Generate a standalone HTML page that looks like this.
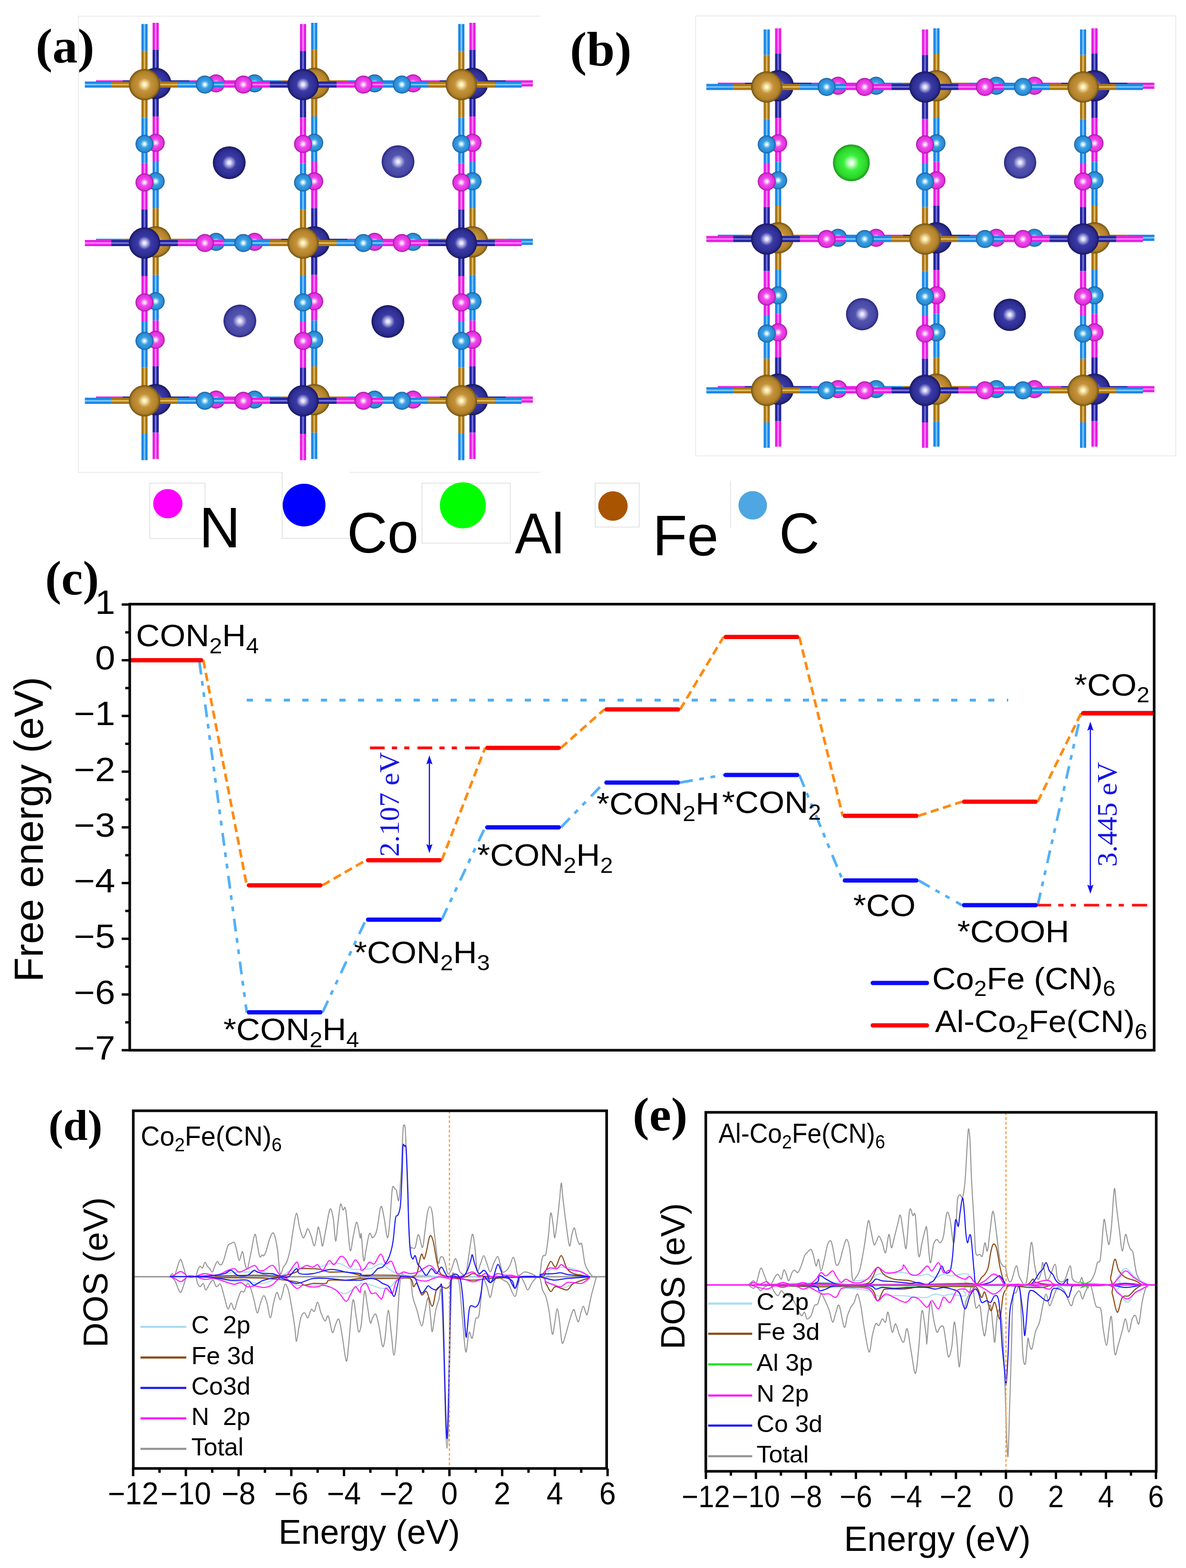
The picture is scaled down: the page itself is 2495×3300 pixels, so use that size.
<!DOCTYPE html><html><head><meta charset="utf-8"><title>Figure</title><style>html,body{margin:0;padding:0;background:#fff;}svg{display:block;}</style></head><body><svg width="2495" height="3300" viewBox="0 0 2495 3300"><defs><radialGradient id="gFe" cx="0.5" cy="0.5" r="0.5" fx="0.5" fy="0.5"><stop offset="0" stop-color="#fff6c4"/><stop offset="0.08" stop-color="#fff6c4"/><stop offset="0.42" stop-color="#c4923a"/><stop offset="0.82" stop-color="#b08028"/><stop offset="1" stop-color="#6e5012"/></radialGradient><radialGradient id="gCo" cx="0.5" cy="0.5" r="0.5" fx="0.5" fy="0.5"><stop offset="0" stop-color="#e8e8ff"/><stop offset="0.08" stop-color="#e8e8ff"/><stop offset="0.42" stop-color="#3a3aa6"/><stop offset="0.82" stop-color="#2c2c90"/><stop offset="1" stop-color="#16165e"/></radialGradient><radialGradient id="gCoL" cx="0.5" cy="0.5" r="0.5" fx="0.5" fy="0.5"><stop offset="0" stop-color="#e8e8ff"/><stop offset="0.08" stop-color="#e8e8ff"/><stop offset="0.42" stop-color="#5454b0"/><stop offset="0.82" stop-color="#4646a4"/><stop offset="1" stop-color="#262680"/></radialGradient><radialGradient id="gC" cx="0.5" cy="0.5" r="0.5" fx="0.5" fy="0.5"><stop offset="0" stop-color="#f0ffff"/><stop offset="0.08" stop-color="#f0ffff"/><stop offset="0.42" stop-color="#3aa0e4"/><stop offset="0.82" stop-color="#2a8ad4"/><stop offset="1" stop-color="#165a9a"/></radialGradient><radialGradient id="gN" cx="0.5" cy="0.5" r="0.5" fx="0.5" fy="0.5"><stop offset="0" stop-color="#fff0ff"/><stop offset="0.08" stop-color="#fff0ff"/><stop offset="0.42" stop-color="#f048ec"/><stop offset="0.82" stop-color="#e030dc"/><stop offset="1" stop-color="#a0109c"/></radialGradient><radialGradient id="gAl" cx="0.5" cy="0.5" r="0.5" fx="0.5" fy="0.5"><stop offset="0" stop-color="#f0fff0"/><stop offset="0.08" stop-color="#f0fff0"/><stop offset="0.42" stop-color="#3cf03c"/><stop offset="0.82" stop-color="#2cd42c"/><stop offset="1" stop-color="#189818"/></radialGradient><linearGradient id="bFeh" x1="0" y1="0" x2="0" y2="1"><stop offset="0" stop-color="#a87418"/><stop offset="0.3" stop-color="#a87418"/><stop offset="0.5" stop-color="#f2d070"/><stop offset="0.7" stop-color="#a87418"/><stop offset="1" stop-color="#a87418"/></linearGradient><linearGradient id="bFev" x1="0" y1="0" x2="1" y2="0"><stop offset="0" stop-color="#a87418"/><stop offset="0.3" stop-color="#a87418"/><stop offset="0.5" stop-color="#f2d070"/><stop offset="0.7" stop-color="#a87418"/><stop offset="1" stop-color="#a87418"/></linearGradient><linearGradient id="bCoh" x1="0" y1="0" x2="0" y2="1"><stop offset="0" stop-color="#24249a"/><stop offset="0.3" stop-color="#24249a"/><stop offset="0.5" stop-color="#8c8cf0"/><stop offset="0.7" stop-color="#24249a"/><stop offset="1" stop-color="#24249a"/></linearGradient><linearGradient id="bCov" x1="0" y1="0" x2="1" y2="0"><stop offset="0" stop-color="#24249a"/><stop offset="0.3" stop-color="#24249a"/><stop offset="0.5" stop-color="#8c8cf0"/><stop offset="0.7" stop-color="#24249a"/><stop offset="1" stop-color="#24249a"/></linearGradient><linearGradient id="bCh" x1="0" y1="0" x2="0" y2="1"><stop offset="0" stop-color="#1e86e6"/><stop offset="0.3" stop-color="#1e86e6"/><stop offset="0.5" stop-color="#90dcff"/><stop offset="0.7" stop-color="#1e86e6"/><stop offset="1" stop-color="#1e86e6"/></linearGradient><linearGradient id="bCv" x1="0" y1="0" x2="1" y2="0"><stop offset="0" stop-color="#1e86e6"/><stop offset="0.3" stop-color="#1e86e6"/><stop offset="0.5" stop-color="#90dcff"/><stop offset="0.7" stop-color="#1e86e6"/><stop offset="1" stop-color="#1e86e6"/></linearGradient><linearGradient id="bNh" x1="0" y1="0" x2="0" y2="1"><stop offset="0" stop-color="#e81ee4"/><stop offset="0.3" stop-color="#e81ee4"/><stop offset="0.5" stop-color="#ff9cff"/><stop offset="0.7" stop-color="#e81ee4"/><stop offset="1" stop-color="#e81ee4"/></linearGradient><linearGradient id="bNv" x1="0" y1="0" x2="1" y2="0"><stop offset="0" stop-color="#e81ee4"/><stop offset="0.3" stop-color="#e81ee4"/><stop offset="0.5" stop-color="#ff9cff"/><stop offset="0.7" stop-color="#e81ee4"/><stop offset="1" stop-color="#e81ee4"/></linearGradient></defs><rect width="2495" height="3300" fill="#fff"/><path d="M1137.5 34 H165 V994 H593.5 M735 994 H1137.5" fill="none" stroke="#e6e6e6" stroke-width="1.5"/><rect x="1463.5" y="33.5" width="1010" height="926" fill="none" stroke="#e6e6e6" stroke-width="1.5"/><rect x="202" y="169" width="55.8" height="13" fill="url(#bNh)"/><rect x="257.8" y="169" width="69.8" height="13" fill="url(#bCoh)"/><rect x="327.5" y="169" width="70.5" height="13" fill="url(#bCoh)"/><rect x="398" y="169" width="56.5" height="13" fill="url(#bNh)"/><rect x="454.5" y="169" width="40.5" height="13" fill="url(#bNh)"/><rect x="495" y="169" width="40.5" height="13" fill="url(#bCh)"/><rect x="535.5" y="169" width="55.8" height="13" fill="url(#bCh)"/><rect x="591.2" y="169" width="69.8" height="13" fill="url(#bFeh)"/><rect x="661" y="169" width="70.5" height="13" fill="url(#bFeh)"/><rect x="731.5" y="169" width="56.5" height="13" fill="url(#bCh)"/><rect x="788" y="169" width="40.5" height="13" fill="url(#bCh)"/><rect x="828.5" y="169" width="40.5" height="13" fill="url(#bNh)"/><rect x="869" y="169" width="55.5" height="13" fill="url(#bNh)"/><rect x="924.5" y="169" width="69.5" height="13" fill="url(#bCoh)"/><rect x="994" y="169" width="70.5" height="13" fill="url(#bCoh)"/><rect x="1064.5" y="169" width="56.5" height="13" fill="url(#bNh)"/><rect x="202" y="502.5" width="55.8" height="13" fill="url(#bCh)"/><rect x="257.8" y="502.5" width="69.8" height="13" fill="url(#bFeh)"/><rect x="327.5" y="502.5" width="70.5" height="13" fill="url(#bFeh)"/><rect x="398" y="502.5" width="56.5" height="13" fill="url(#bCh)"/><rect x="454.5" y="502.5" width="40.5" height="13" fill="url(#bCh)"/><rect x="495" y="502.5" width="40.5" height="13" fill="url(#bNh)"/><rect x="535.5" y="502.5" width="55.8" height="13" fill="url(#bNh)"/><rect x="591.2" y="502.5" width="69.8" height="13" fill="url(#bCoh)"/><rect x="661" y="502.5" width="70.5" height="13" fill="url(#bCoh)"/><rect x="731.5" y="502.5" width="56.5" height="13" fill="url(#bNh)"/><rect x="788" y="502.5" width="40.5" height="13" fill="url(#bNh)"/><rect x="828.5" y="502.5" width="40.5" height="13" fill="url(#bCh)"/><rect x="869" y="502.5" width="55.5" height="13" fill="url(#bCh)"/><rect x="924.5" y="502.5" width="69.5" height="13" fill="url(#bFeh)"/><rect x="994" y="502.5" width="70.5" height="13" fill="url(#bFeh)"/><rect x="1064.5" y="502.5" width="56.5" height="13" fill="url(#bCh)"/><rect x="202" y="834.5" width="55.8" height="13" fill="url(#bNh)"/><rect x="257.8" y="834.5" width="69.8" height="13" fill="url(#bCoh)"/><rect x="327.5" y="834.5" width="70.5" height="13" fill="url(#bCoh)"/><rect x="398" y="834.5" width="56.5" height="13" fill="url(#bNh)"/><rect x="454.5" y="834.5" width="40.5" height="13" fill="url(#bNh)"/><rect x="495" y="834.5" width="40.5" height="13" fill="url(#bCh)"/><rect x="535.5" y="834.5" width="55.8" height="13" fill="url(#bCh)"/><rect x="591.2" y="834.5" width="69.8" height="13" fill="url(#bFeh)"/><rect x="661" y="834.5" width="70.5" height="13" fill="url(#bFeh)"/><rect x="731.5" y="834.5" width="56.5" height="13" fill="url(#bCh)"/><rect x="788" y="834.5" width="40.5" height="13" fill="url(#bCh)"/><rect x="828.5" y="834.5" width="40.5" height="13" fill="url(#bNh)"/><rect x="869" y="834.5" width="55.5" height="13" fill="url(#bNh)"/><rect x="924.5" y="834.5" width="69.5" height="13" fill="url(#bCoh)"/><rect x="994" y="834.5" width="70.5" height="13" fill="url(#bCoh)"/><rect x="1064.5" y="834.5" width="56.5" height="13" fill="url(#bNh)"/><rect x="321" y="48" width="13" height="56.8" fill="url(#bNv)"/><rect x="321" y="104.8" width="13" height="70.8" fill="url(#bCov)"/><rect x="321" y="175.5" width="13" height="69.5" fill="url(#bCov)"/><rect x="321" y="245" width="13" height="55.5" fill="url(#bNv)"/><rect x="321" y="300.5" width="13" height="40.5" fill="url(#bNv)"/><rect x="321" y="341" width="13" height="40.5" fill="url(#bCv)"/><rect x="321" y="381.5" width="13" height="56.8" fill="url(#bCv)"/><rect x="321" y="438.2" width="13" height="70.8" fill="url(#bFev)"/><rect x="321" y="509" width="13" height="69.5" fill="url(#bFev)"/><rect x="321" y="578.5" width="13" height="55.5" fill="url(#bCv)"/><rect x="321" y="634" width="13" height="40.5" fill="url(#bCv)"/><rect x="321" y="674.5" width="13" height="40.5" fill="url(#bNv)"/><rect x="321" y="715" width="13" height="56" fill="url(#bNv)"/><rect x="321" y="771" width="13" height="70" fill="url(#bCov)"/><rect x="321" y="841" width="13" height="69.5" fill="url(#bCov)"/><rect x="321" y="910.5" width="13" height="55.5" fill="url(#bNv)"/><rect x="654.5" y="48" width="13" height="56.8" fill="url(#bCv)"/><rect x="654.5" y="104.8" width="13" height="70.8" fill="url(#bFev)"/><rect x="654.5" y="175.5" width="13" height="69.5" fill="url(#bFev)"/><rect x="654.5" y="245" width="13" height="55.5" fill="url(#bCv)"/><rect x="654.5" y="300.5" width="13" height="40.5" fill="url(#bCv)"/><rect x="654.5" y="341" width="13" height="40.5" fill="url(#bNv)"/><rect x="654.5" y="381.5" width="13" height="56.8" fill="url(#bNv)"/><rect x="654.5" y="438.2" width="13" height="70.8" fill="url(#bCov)"/><rect x="654.5" y="509" width="13" height="69.5" fill="url(#bCov)"/><rect x="654.5" y="578.5" width="13" height="55.5" fill="url(#bNv)"/><rect x="654.5" y="634" width="13" height="40.5" fill="url(#bNv)"/><rect x="654.5" y="674.5" width="13" height="40.5" fill="url(#bCv)"/><rect x="654.5" y="715" width="13" height="56" fill="url(#bCv)"/><rect x="654.5" y="771" width="13" height="70" fill="url(#bFev)"/><rect x="654.5" y="841" width="13" height="69.5" fill="url(#bFev)"/><rect x="654.5" y="910.5" width="13" height="55.5" fill="url(#bCv)"/><rect x="987.5" y="48" width="13" height="56.8" fill="url(#bNv)"/><rect x="987.5" y="104.8" width="13" height="70.8" fill="url(#bCov)"/><rect x="987.5" y="175.5" width="13" height="69.5" fill="url(#bCov)"/><rect x="987.5" y="245" width="13" height="55.5" fill="url(#bNv)"/><rect x="987.5" y="300.5" width="13" height="40.5" fill="url(#bNv)"/><rect x="987.5" y="341" width="13" height="40.5" fill="url(#bCv)"/><rect x="987.5" y="381.5" width="13" height="56.8" fill="url(#bCv)"/><rect x="987.5" y="438.2" width="13" height="70.8" fill="url(#bFev)"/><rect x="987.5" y="509" width="13" height="69.5" fill="url(#bFev)"/><rect x="987.5" y="578.5" width="13" height="55.5" fill="url(#bCv)"/><rect x="987.5" y="634" width="13" height="40.5" fill="url(#bCv)"/><rect x="987.5" y="674.5" width="13" height="40.5" fill="url(#bNv)"/><rect x="987.5" y="715" width="13" height="56" fill="url(#bNv)"/><rect x="987.5" y="771" width="13" height="70" fill="url(#bCov)"/><rect x="987.5" y="841" width="13" height="69.5" fill="url(#bCov)"/><rect x="987.5" y="910.5" width="13" height="55.5" fill="url(#bNv)"/><circle cx="454.5" cy="175.5" r="19" fill="url(#gN)"/><circle cx="535.5" cy="175.5" r="19" fill="url(#gC)"/><circle cx="788" cy="175.5" r="19" fill="url(#gC)"/><circle cx="869" cy="175.5" r="19" fill="url(#gN)"/><circle cx="454.5" cy="509" r="19" fill="url(#gC)"/><circle cx="535.5" cy="509" r="19" fill="url(#gN)"/><circle cx="788" cy="509" r="19" fill="url(#gN)"/><circle cx="869" cy="509" r="19" fill="url(#gC)"/><circle cx="454.5" cy="841" r="19" fill="url(#gN)"/><circle cx="535.5" cy="841" r="19" fill="url(#gC)"/><circle cx="788" cy="841" r="19" fill="url(#gC)"/><circle cx="869" cy="841" r="19" fill="url(#gN)"/><circle cx="327.5" cy="300.5" r="19" fill="url(#gN)"/><circle cx="327.5" cy="381.5" r="19" fill="url(#gC)"/><circle cx="327.5" cy="634" r="19" fill="url(#gC)"/><circle cx="327.5" cy="715" r="19" fill="url(#gN)"/><circle cx="661" cy="300.5" r="19" fill="url(#gC)"/><circle cx="661" cy="381.5" r="19" fill="url(#gN)"/><circle cx="661" cy="634" r="19" fill="url(#gN)"/><circle cx="661" cy="715" r="19" fill="url(#gC)"/><circle cx="994" cy="300.5" r="19" fill="url(#gN)"/><circle cx="994" cy="381.5" r="19" fill="url(#gC)"/><circle cx="994" cy="634" r="19" fill="url(#gC)"/><circle cx="994" cy="715" r="19" fill="url(#gN)"/><circle cx="327.5" cy="175.5" r="33" fill="url(#gCo)"/><circle cx="327.5" cy="509" r="33" fill="url(#gFe)"/><circle cx="327.5" cy="841" r="33" fill="url(#gCo)"/><circle cx="661" cy="175.5" r="33" fill="url(#gFe)"/><circle cx="661" cy="509" r="33" fill="url(#gCo)"/><circle cx="661" cy="841" r="33" fill="url(#gFe)"/><circle cx="994" cy="175.5" r="33" fill="url(#gCo)"/><circle cx="994" cy="509" r="33" fill="url(#gFe)"/><circle cx="994" cy="841" r="33" fill="url(#gCo)"/><circle cx="482.2" cy="342.4" r="34.5" fill="url(#gCo)"/><circle cx="837.3" cy="340.2" r="34.5" fill="url(#gCoL)"/><circle cx="504.6" cy="675.5" r="34.5" fill="url(#gCoL)"/><circle cx="816" cy="676.5" r="34.5" fill="url(#gCo)"/><rect x="178.5" y="171.5" width="55.8" height="13" fill="url(#bCh)"/><rect x="234.2" y="171.5" width="69.8" height="13" fill="url(#bFeh)"/><rect x="304" y="171.5" width="70.5" height="13" fill="url(#bFeh)"/><rect x="374.5" y="171.5" width="56.5" height="13" fill="url(#bCh)"/><rect x="431" y="171.5" width="40.5" height="13" fill="url(#bCh)"/><rect x="471.5" y="171.5" width="40.5" height="13" fill="url(#bNh)"/><rect x="512" y="171.5" width="55.8" height="13" fill="url(#bNh)"/><rect x="567.8" y="171.5" width="69.8" height="13" fill="url(#bCoh)"/><rect x="637.5" y="171.5" width="70.5" height="13" fill="url(#bCoh)"/><rect x="708" y="171.5" width="56.5" height="13" fill="url(#bNh)"/><rect x="764.5" y="171.5" width="40.5" height="13" fill="url(#bNh)"/><rect x="805" y="171.5" width="40.5" height="13" fill="url(#bCh)"/><rect x="845.5" y="171.5" width="55.5" height="13" fill="url(#bCh)"/><rect x="901" y="171.5" width="69.5" height="13" fill="url(#bFeh)"/><rect x="970.5" y="171.5" width="70.5" height="13" fill="url(#bFeh)"/><rect x="1041" y="171.5" width="56.5" height="13" fill="url(#bCh)"/><rect x="178.5" y="505" width="55.8" height="13" fill="url(#bNh)"/><rect x="234.2" y="505" width="69.8" height="13" fill="url(#bCoh)"/><rect x="304" y="505" width="70.5" height="13" fill="url(#bCoh)"/><rect x="374.5" y="505" width="56.5" height="13" fill="url(#bNh)"/><rect x="431" y="505" width="40.5" height="13" fill="url(#bNh)"/><rect x="471.5" y="505" width="40.5" height="13" fill="url(#bCh)"/><rect x="512" y="505" width="55.8" height="13" fill="url(#bCh)"/><rect x="567.8" y="505" width="69.8" height="13" fill="url(#bFeh)"/><rect x="637.5" y="505" width="70.5" height="13" fill="url(#bFeh)"/><rect x="708" y="505" width="56.5" height="13" fill="url(#bCh)"/><rect x="764.5" y="505" width="40.5" height="13" fill="url(#bCh)"/><rect x="805" y="505" width="40.5" height="13" fill="url(#bNh)"/><rect x="845.5" y="505" width="55.5" height="13" fill="url(#bNh)"/><rect x="901" y="505" width="69.5" height="13" fill="url(#bCoh)"/><rect x="970.5" y="505" width="70.5" height="13" fill="url(#bCoh)"/><rect x="1041" y="505" width="56.5" height="13" fill="url(#bNh)"/><rect x="178.5" y="837" width="55.8" height="13" fill="url(#bCh)"/><rect x="234.2" y="837" width="69.8" height="13" fill="url(#bFeh)"/><rect x="304" y="837" width="70.5" height="13" fill="url(#bFeh)"/><rect x="374.5" y="837" width="56.5" height="13" fill="url(#bCh)"/><rect x="431" y="837" width="40.5" height="13" fill="url(#bCh)"/><rect x="471.5" y="837" width="40.5" height="13" fill="url(#bNh)"/><rect x="512" y="837" width="55.8" height="13" fill="url(#bNh)"/><rect x="567.8" y="837" width="69.8" height="13" fill="url(#bCoh)"/><rect x="637.5" y="837" width="70.5" height="13" fill="url(#bCoh)"/><rect x="708" y="837" width="56.5" height="13" fill="url(#bNh)"/><rect x="764.5" y="837" width="40.5" height="13" fill="url(#bNh)"/><rect x="805" y="837" width="40.5" height="13" fill="url(#bCh)"/><rect x="845.5" y="837" width="55.5" height="13" fill="url(#bCh)"/><rect x="901" y="837" width="69.5" height="13" fill="url(#bFeh)"/><rect x="970.5" y="837" width="70.5" height="13" fill="url(#bFeh)"/><rect x="1041" y="837" width="56.5" height="13" fill="url(#bCh)"/><rect x="297.5" y="50.5" width="13" height="56.8" fill="url(#bCv)"/><rect x="297.5" y="107.2" width="13" height="70.8" fill="url(#bFev)"/><rect x="297.5" y="178" width="13" height="69.5" fill="url(#bFev)"/><rect x="297.5" y="247.5" width="13" height="55.5" fill="url(#bCv)"/><rect x="297.5" y="303" width="13" height="40.5" fill="url(#bCv)"/><rect x="297.5" y="343.5" width="13" height="40.5" fill="url(#bNv)"/><rect x="297.5" y="384" width="13" height="56.8" fill="url(#bNv)"/><rect x="297.5" y="440.8" width="13" height="70.8" fill="url(#bCov)"/><rect x="297.5" y="511.5" width="13" height="69.5" fill="url(#bCov)"/><rect x="297.5" y="581" width="13" height="55.5" fill="url(#bNv)"/><rect x="297.5" y="636.5" width="13" height="40.5" fill="url(#bNv)"/><rect x="297.5" y="677" width="13" height="40.5" fill="url(#bCv)"/><rect x="297.5" y="717.5" width="13" height="56" fill="url(#bCv)"/><rect x="297.5" y="773.5" width="13" height="70" fill="url(#bFev)"/><rect x="297.5" y="843.5" width="13" height="69.5" fill="url(#bFev)"/><rect x="297.5" y="913" width="13" height="55.5" fill="url(#bCv)"/><rect x="631" y="50.5" width="13" height="56.8" fill="url(#bNv)"/><rect x="631" y="107.2" width="13" height="70.8" fill="url(#bCov)"/><rect x="631" y="178" width="13" height="69.5" fill="url(#bCov)"/><rect x="631" y="247.5" width="13" height="55.5" fill="url(#bNv)"/><rect x="631" y="303" width="13" height="40.5" fill="url(#bNv)"/><rect x="631" y="343.5" width="13" height="40.5" fill="url(#bCv)"/><rect x="631" y="384" width="13" height="56.8" fill="url(#bCv)"/><rect x="631" y="440.8" width="13" height="70.8" fill="url(#bFev)"/><rect x="631" y="511.5" width="13" height="69.5" fill="url(#bFev)"/><rect x="631" y="581" width="13" height="55.5" fill="url(#bCv)"/><rect x="631" y="636.5" width="13" height="40.5" fill="url(#bCv)"/><rect x="631" y="677" width="13" height="40.5" fill="url(#bNv)"/><rect x="631" y="717.5" width="13" height="56" fill="url(#bNv)"/><rect x="631" y="773.5" width="13" height="70" fill="url(#bCov)"/><rect x="631" y="843.5" width="13" height="69.5" fill="url(#bCov)"/><rect x="631" y="913" width="13" height="55.5" fill="url(#bNv)"/><rect x="964" y="50.5" width="13" height="56.8" fill="url(#bCv)"/><rect x="964" y="107.2" width="13" height="70.8" fill="url(#bFev)"/><rect x="964" y="178" width="13" height="69.5" fill="url(#bFev)"/><rect x="964" y="247.5" width="13" height="55.5" fill="url(#bCv)"/><rect x="964" y="303" width="13" height="40.5" fill="url(#bCv)"/><rect x="964" y="343.5" width="13" height="40.5" fill="url(#bNv)"/><rect x="964" y="384" width="13" height="56.8" fill="url(#bNv)"/><rect x="964" y="440.8" width="13" height="70.8" fill="url(#bCov)"/><rect x="964" y="511.5" width="13" height="69.5" fill="url(#bCov)"/><rect x="964" y="581" width="13" height="55.5" fill="url(#bNv)"/><rect x="964" y="636.5" width="13" height="40.5" fill="url(#bNv)"/><rect x="964" y="677" width="13" height="40.5" fill="url(#bCv)"/><rect x="964" y="717.5" width="13" height="56" fill="url(#bCv)"/><rect x="964" y="773.5" width="13" height="70" fill="url(#bFev)"/><rect x="964" y="843.5" width="13" height="69.5" fill="url(#bFev)"/><rect x="964" y="913" width="13" height="55.5" fill="url(#bCv)"/><circle cx="431" cy="178" r="19" fill="url(#gC)"/><circle cx="512" cy="178" r="19" fill="url(#gN)"/><circle cx="764.5" cy="178" r="19" fill="url(#gN)"/><circle cx="845.5" cy="178" r="19" fill="url(#gC)"/><circle cx="431" cy="511.5" r="19" fill="url(#gN)"/><circle cx="512" cy="511.5" r="19" fill="url(#gC)"/><circle cx="764.5" cy="511.5" r="19" fill="url(#gC)"/><circle cx="845.5" cy="511.5" r="19" fill="url(#gN)"/><circle cx="431" cy="843.5" r="19" fill="url(#gC)"/><circle cx="512" cy="843.5" r="19" fill="url(#gN)"/><circle cx="764.5" cy="843.5" r="19" fill="url(#gN)"/><circle cx="845.5" cy="843.5" r="19" fill="url(#gC)"/><circle cx="304" cy="303" r="19" fill="url(#gC)"/><circle cx="304" cy="384" r="19" fill="url(#gN)"/><circle cx="304" cy="636.5" r="19" fill="url(#gN)"/><circle cx="304" cy="717.5" r="19" fill="url(#gC)"/><circle cx="637.5" cy="303" r="19" fill="url(#gN)"/><circle cx="637.5" cy="384" r="19" fill="url(#gC)"/><circle cx="637.5" cy="636.5" r="19" fill="url(#gC)"/><circle cx="637.5" cy="717.5" r="19" fill="url(#gN)"/><circle cx="970.5" cy="303" r="19" fill="url(#gC)"/><circle cx="970.5" cy="384" r="19" fill="url(#gN)"/><circle cx="970.5" cy="636.5" r="19" fill="url(#gN)"/><circle cx="970.5" cy="717.5" r="19" fill="url(#gC)"/><circle cx="304" cy="178" r="33" fill="url(#gFe)"/><circle cx="304" cy="511.5" r="33" fill="url(#gCo)"/><circle cx="304" cy="843.5" r="33" fill="url(#gFe)"/><circle cx="637.5" cy="178" r="33" fill="url(#gCo)"/><circle cx="637.5" cy="511.5" r="33" fill="url(#gFe)"/><circle cx="637.5" cy="843.5" r="33" fill="url(#gCo)"/><circle cx="970.5" cy="178" r="33" fill="url(#gFe)"/><circle cx="970.5" cy="511.5" r="33" fill="url(#gCo)"/><circle cx="970.5" cy="843.5" r="33" fill="url(#gFe)"/><rect x="1510" y="174" width="56.5" height="13" fill="url(#bNh)"/><rect x="1566.5" y="174" width="70.5" height="13" fill="url(#bCoh)"/><rect x="1637" y="174" width="70" height="13" fill="url(#bCoh)"/><rect x="1707" y="174" width="56" height="13" fill="url(#bNh)"/><rect x="1763" y="174" width="40" height="13" fill="url(#bNh)"/><rect x="1803" y="174" width="40" height="13" fill="url(#bCh)"/><rect x="1843" y="174" width="56.5" height="13" fill="url(#bCh)"/><rect x="1899.5" y="174" width="70.5" height="13" fill="url(#bFeh)"/><rect x="1970" y="174" width="70" height="13" fill="url(#bFeh)"/><rect x="2040" y="174" width="56" height="13" fill="url(#bCh)"/><rect x="2096" y="174" width="40" height="13" fill="url(#bCh)"/><rect x="2136" y="174" width="40" height="13" fill="url(#bNh)"/><rect x="2176" y="174" width="56.2" height="13" fill="url(#bNh)"/><rect x="2232.2" y="174" width="70.2" height="13" fill="url(#bCoh)"/><rect x="2302.5" y="174" width="70" height="13" fill="url(#bCoh)"/><rect x="2372.5" y="174" width="56" height="13" fill="url(#bNh)"/><rect x="1510" y="494" width="56.5" height="13" fill="url(#bCh)"/><rect x="1566.5" y="494" width="70.5" height="13" fill="url(#bFeh)"/><rect x="1637" y="494" width="70" height="13" fill="url(#bFeh)"/><rect x="1707" y="494" width="56" height="13" fill="url(#bCh)"/><rect x="1763" y="494" width="40" height="13" fill="url(#bCh)"/><rect x="1803" y="494" width="40" height="13" fill="url(#bNh)"/><rect x="1843" y="494" width="56.5" height="13" fill="url(#bNh)"/><rect x="1899.5" y="494" width="70.5" height="13" fill="url(#bCoh)"/><rect x="1970" y="494" width="70" height="13" fill="url(#bCoh)"/><rect x="2040" y="494" width="56" height="13" fill="url(#bNh)"/><rect x="2096" y="494" width="40" height="13" fill="url(#bNh)"/><rect x="2136" y="494" width="40" height="13" fill="url(#bCh)"/><rect x="2176" y="494" width="56.2" height="13" fill="url(#bCh)"/><rect x="2232.2" y="494" width="70.2" height="13" fill="url(#bFeh)"/><rect x="2302.5" y="494" width="70" height="13" fill="url(#bFeh)"/><rect x="2372.5" y="494" width="56" height="13" fill="url(#bCh)"/><rect x="1510" y="812.5" width="56.5" height="13" fill="url(#bNh)"/><rect x="1566.5" y="812.5" width="70.5" height="13" fill="url(#bCoh)"/><rect x="1637" y="812.5" width="70" height="13" fill="url(#bCoh)"/><rect x="1707" y="812.5" width="56" height="13" fill="url(#bNh)"/><rect x="1763" y="812.5" width="40" height="13" fill="url(#bNh)"/><rect x="1803" y="812.5" width="40" height="13" fill="url(#bCh)"/><rect x="1843" y="812.5" width="56.5" height="13" fill="url(#bCh)"/><rect x="1899.5" y="812.5" width="70.5" height="13" fill="url(#bFeh)"/><rect x="1970" y="812.5" width="70" height="13" fill="url(#bFeh)"/><rect x="2040" y="812.5" width="56" height="13" fill="url(#bCh)"/><rect x="2096" y="812.5" width="40" height="13" fill="url(#bCh)"/><rect x="2136" y="812.5" width="40" height="13" fill="url(#bNh)"/><rect x="2176" y="812.5" width="56.2" height="13" fill="url(#bNh)"/><rect x="2232.2" y="812.5" width="70.2" height="13" fill="url(#bCoh)"/><rect x="2302.5" y="812.5" width="70" height="13" fill="url(#bCoh)"/><rect x="2372.5" y="812.5" width="56" height="13" fill="url(#bNh)"/><rect x="1630.5" y="59.5" width="13" height="53.5" fill="url(#bNv)"/><rect x="1630.5" y="113" width="13" height="67.5" fill="url(#bCov)"/><rect x="1630.5" y="180.5" width="13" height="67.5" fill="url(#bCov)"/><rect x="1630.5" y="248" width="13" height="53.5" fill="url(#bNv)"/><rect x="1630.5" y="301.5" width="13" height="39" fill="url(#bNv)"/><rect x="1630.5" y="340.5" width="13" height="39" fill="url(#bCv)"/><rect x="1630.5" y="379.5" width="13" height="53.5" fill="url(#bCv)"/><rect x="1630.5" y="433" width="13" height="67.5" fill="url(#bFev)"/><rect x="1630.5" y="500.5" width="13" height="67.5" fill="url(#bFev)"/><rect x="1630.5" y="568" width="13" height="53.5" fill="url(#bCv)"/><rect x="1630.5" y="621.5" width="13" height="39" fill="url(#bCv)"/><rect x="1630.5" y="660.5" width="13" height="39" fill="url(#bNv)"/><rect x="1630.5" y="699.5" width="13" height="52.8" fill="url(#bNv)"/><rect x="1630.5" y="752.2" width="13" height="66.8" fill="url(#bCov)"/><rect x="1630.5" y="819" width="13" height="67.5" fill="url(#bCov)"/><rect x="1630.5" y="886.5" width="13" height="53.5" fill="url(#bNv)"/><rect x="1963.5" y="59.5" width="13" height="53.5" fill="url(#bCv)"/><rect x="1963.5" y="113" width="13" height="67.5" fill="url(#bFev)"/><rect x="1963.5" y="180.5" width="13" height="67.5" fill="url(#bFev)"/><rect x="1963.5" y="248" width="13" height="53.5" fill="url(#bCv)"/><rect x="1963.5" y="301.5" width="13" height="39" fill="url(#bCv)"/><rect x="1963.5" y="340.5" width="13" height="39" fill="url(#bNv)"/><rect x="1963.5" y="379.5" width="13" height="53.5" fill="url(#bNv)"/><rect x="1963.5" y="433" width="13" height="67.5" fill="url(#bCov)"/><rect x="1963.5" y="500.5" width="13" height="67.5" fill="url(#bCov)"/><rect x="1963.5" y="568" width="13" height="53.5" fill="url(#bNv)"/><rect x="1963.5" y="621.5" width="13" height="39" fill="url(#bNv)"/><rect x="1963.5" y="660.5" width="13" height="39" fill="url(#bCv)"/><rect x="1963.5" y="699.5" width="13" height="52.8" fill="url(#bCv)"/><rect x="1963.5" y="752.2" width="13" height="66.8" fill="url(#bFev)"/><rect x="1963.5" y="819" width="13" height="67.5" fill="url(#bFev)"/><rect x="1963.5" y="886.5" width="13" height="53.5" fill="url(#bCv)"/><rect x="2296" y="59.5" width="13" height="53.5" fill="url(#bNv)"/><rect x="2296" y="113" width="13" height="67.5" fill="url(#bCov)"/><rect x="2296" y="180.5" width="13" height="67.5" fill="url(#bCov)"/><rect x="2296" y="248" width="13" height="53.5" fill="url(#bNv)"/><rect x="2296" y="301.5" width="13" height="39" fill="url(#bNv)"/><rect x="2296" y="340.5" width="13" height="39" fill="url(#bCv)"/><rect x="2296" y="379.5" width="13" height="53.5" fill="url(#bCv)"/><rect x="2296" y="433" width="13" height="67.5" fill="url(#bFev)"/><rect x="2296" y="500.5" width="13" height="67.5" fill="url(#bFev)"/><rect x="2296" y="568" width="13" height="53.5" fill="url(#bCv)"/><rect x="2296" y="621.5" width="13" height="39" fill="url(#bCv)"/><rect x="2296" y="660.5" width="13" height="39" fill="url(#bNv)"/><rect x="2296" y="699.5" width="13" height="52.8" fill="url(#bNv)"/><rect x="2296" y="752.2" width="13" height="66.8" fill="url(#bCov)"/><rect x="2296" y="819" width="13" height="67.5" fill="url(#bCov)"/><rect x="2296" y="886.5" width="13" height="53.5" fill="url(#bNv)"/><circle cx="1763" cy="180.5" r="19" fill="url(#gN)"/><circle cx="1843" cy="180.5" r="19" fill="url(#gC)"/><circle cx="2096" cy="180.5" r="19" fill="url(#gC)"/><circle cx="2176" cy="180.5" r="19" fill="url(#gN)"/><circle cx="1763" cy="500.5" r="19" fill="url(#gC)"/><circle cx="1843" cy="500.5" r="19" fill="url(#gN)"/><circle cx="2096" cy="500.5" r="19" fill="url(#gN)"/><circle cx="2176" cy="500.5" r="19" fill="url(#gC)"/><circle cx="1763" cy="819" r="19" fill="url(#gN)"/><circle cx="1843" cy="819" r="19" fill="url(#gC)"/><circle cx="2096" cy="819" r="19" fill="url(#gC)"/><circle cx="2176" cy="819" r="19" fill="url(#gN)"/><circle cx="1637" cy="301.5" r="19" fill="url(#gN)"/><circle cx="1637" cy="379.5" r="19" fill="url(#gC)"/><circle cx="1637" cy="621.5" r="19" fill="url(#gC)"/><circle cx="1637" cy="699.5" r="19" fill="url(#gN)"/><circle cx="1970" cy="301.5" r="19" fill="url(#gC)"/><circle cx="1970" cy="379.5" r="19" fill="url(#gN)"/><circle cx="1970" cy="621.5" r="19" fill="url(#gN)"/><circle cx="1970" cy="699.5" r="19" fill="url(#gC)"/><circle cx="2302.5" cy="301.5" r="19" fill="url(#gN)"/><circle cx="2302.5" cy="379.5" r="19" fill="url(#gC)"/><circle cx="2302.5" cy="621.5" r="19" fill="url(#gC)"/><circle cx="2302.5" cy="699.5" r="19" fill="url(#gN)"/><circle cx="1637" cy="180.5" r="33" fill="url(#gCo)"/><circle cx="1637" cy="500.5" r="33" fill="url(#gFe)"/><circle cx="1637" cy="819" r="33" fill="url(#gCo)"/><circle cx="1970" cy="180.5" r="33" fill="url(#gFe)"/><circle cx="1970" cy="500.5" r="33" fill="url(#gCo)"/><circle cx="1970" cy="819" r="33" fill="url(#gFe)"/><circle cx="2302.5" cy="180.5" r="33" fill="url(#gCo)"/><circle cx="2302.5" cy="500.5" r="33" fill="url(#gFe)"/><circle cx="2302.5" cy="819" r="33" fill="url(#gCo)"/><circle cx="1791" cy="342.7" r="38.8" fill="url(#gAl)"/><circle cx="2146" cy="342" r="34" fill="url(#gCoL)"/><circle cx="1813.7" cy="661.2" r="34" fill="url(#gCoL)"/><circle cx="2124.2" cy="662.5" r="34" fill="url(#gCo)"/><rect x="1486" y="176.5" width="56.5" height="13" fill="url(#bCh)"/><rect x="1542.5" y="176.5" width="70.5" height="13" fill="url(#bFeh)"/><rect x="1613" y="176.5" width="70" height="13" fill="url(#bFeh)"/><rect x="1683" y="176.5" width="56" height="13" fill="url(#bCh)"/><rect x="1739" y="176.5" width="40" height="13" fill="url(#bCh)"/><rect x="1779" y="176.5" width="40" height="13" fill="url(#bNh)"/><rect x="1819" y="176.5" width="56.5" height="13" fill="url(#bNh)"/><rect x="1875.5" y="176.5" width="70.5" height="13" fill="url(#bCoh)"/><rect x="1946" y="176.5" width="70" height="13" fill="url(#bCoh)"/><rect x="2016" y="176.5" width="56" height="13" fill="url(#bNh)"/><rect x="2072" y="176.5" width="40" height="13" fill="url(#bNh)"/><rect x="2112" y="176.5" width="40" height="13" fill="url(#bCh)"/><rect x="2152" y="176.5" width="56.2" height="13" fill="url(#bCh)"/><rect x="2208.2" y="176.5" width="70.2" height="13" fill="url(#bFeh)"/><rect x="2278.5" y="176.5" width="70" height="13" fill="url(#bFeh)"/><rect x="2348.5" y="176.5" width="56" height="13" fill="url(#bCh)"/><rect x="1486" y="496.5" width="56.5" height="13" fill="url(#bNh)"/><rect x="1542.5" y="496.5" width="70.5" height="13" fill="url(#bCoh)"/><rect x="1613" y="496.5" width="70" height="13" fill="url(#bCoh)"/><rect x="1683" y="496.5" width="56" height="13" fill="url(#bNh)"/><rect x="1739" y="496.5" width="40" height="13" fill="url(#bNh)"/><rect x="1779" y="496.5" width="40" height="13" fill="url(#bCh)"/><rect x="1819" y="496.5" width="56.5" height="13" fill="url(#bCh)"/><rect x="1875.5" y="496.5" width="70.5" height="13" fill="url(#bFeh)"/><rect x="1946" y="496.5" width="70" height="13" fill="url(#bFeh)"/><rect x="2016" y="496.5" width="56" height="13" fill="url(#bCh)"/><rect x="2072" y="496.5" width="40" height="13" fill="url(#bCh)"/><rect x="2112" y="496.5" width="40" height="13" fill="url(#bNh)"/><rect x="2152" y="496.5" width="56.2" height="13" fill="url(#bNh)"/><rect x="2208.2" y="496.5" width="70.2" height="13" fill="url(#bCoh)"/><rect x="2278.5" y="496.5" width="70" height="13" fill="url(#bCoh)"/><rect x="2348.5" y="496.5" width="56" height="13" fill="url(#bNh)"/><rect x="1486" y="815" width="56.5" height="13" fill="url(#bCh)"/><rect x="1542.5" y="815" width="70.5" height="13" fill="url(#bFeh)"/><rect x="1613" y="815" width="70" height="13" fill="url(#bFeh)"/><rect x="1683" y="815" width="56" height="13" fill="url(#bCh)"/><rect x="1739" y="815" width="40" height="13" fill="url(#bCh)"/><rect x="1779" y="815" width="40" height="13" fill="url(#bNh)"/><rect x="1819" y="815" width="56.5" height="13" fill="url(#bNh)"/><rect x="1875.5" y="815" width="70.5" height="13" fill="url(#bCoh)"/><rect x="1946" y="815" width="70" height="13" fill="url(#bCoh)"/><rect x="2016" y="815" width="56" height="13" fill="url(#bNh)"/><rect x="2072" y="815" width="40" height="13" fill="url(#bNh)"/><rect x="2112" y="815" width="40" height="13" fill="url(#bCh)"/><rect x="2152" y="815" width="56.2" height="13" fill="url(#bCh)"/><rect x="2208.2" y="815" width="70.2" height="13" fill="url(#bFeh)"/><rect x="2278.5" y="815" width="70" height="13" fill="url(#bFeh)"/><rect x="2348.5" y="815" width="56" height="13" fill="url(#bCh)"/><rect x="1606.5" y="62" width="13" height="53.5" fill="url(#bCv)"/><rect x="1606.5" y="115.5" width="13" height="67.5" fill="url(#bFev)"/><rect x="1606.5" y="183" width="13" height="67.5" fill="url(#bFev)"/><rect x="1606.5" y="250.5" width="13" height="53.5" fill="url(#bCv)"/><rect x="1606.5" y="304" width="13" height="39" fill="url(#bCv)"/><rect x="1606.5" y="343" width="13" height="39" fill="url(#bNv)"/><rect x="1606.5" y="382" width="13" height="53.5" fill="url(#bNv)"/><rect x="1606.5" y="435.5" width="13" height="67.5" fill="url(#bCov)"/><rect x="1606.5" y="503" width="13" height="67.5" fill="url(#bCov)"/><rect x="1606.5" y="570.5" width="13" height="53.5" fill="url(#bNv)"/><rect x="1606.5" y="624" width="13" height="39" fill="url(#bNv)"/><rect x="1606.5" y="663" width="13" height="39" fill="url(#bCv)"/><rect x="1606.5" y="702" width="13" height="52.8" fill="url(#bCv)"/><rect x="1606.5" y="754.8" width="13" height="66.8" fill="url(#bFev)"/><rect x="1606.5" y="821.5" width="13" height="67.5" fill="url(#bFev)"/><rect x="1606.5" y="889" width="13" height="53.5" fill="url(#bCv)"/><rect x="1939.5" y="62" width="13" height="53.5" fill="url(#bNv)"/><rect x="1939.5" y="115.5" width="13" height="67.5" fill="url(#bCov)"/><rect x="1939.5" y="183" width="13" height="67.5" fill="url(#bCov)"/><rect x="1939.5" y="250.5" width="13" height="53.5" fill="url(#bNv)"/><rect x="1939.5" y="304" width="13" height="39" fill="url(#bNv)"/><rect x="1939.5" y="343" width="13" height="39" fill="url(#bCv)"/><rect x="1939.5" y="382" width="13" height="53.5" fill="url(#bCv)"/><rect x="1939.5" y="435.5" width="13" height="67.5" fill="url(#bFev)"/><rect x="1939.5" y="503" width="13" height="67.5" fill="url(#bFev)"/><rect x="1939.5" y="570.5" width="13" height="53.5" fill="url(#bCv)"/><rect x="1939.5" y="624" width="13" height="39" fill="url(#bCv)"/><rect x="1939.5" y="663" width="13" height="39" fill="url(#bNv)"/><rect x="1939.5" y="702" width="13" height="52.8" fill="url(#bNv)"/><rect x="1939.5" y="754.8" width="13" height="66.8" fill="url(#bCov)"/><rect x="1939.5" y="821.5" width="13" height="67.5" fill="url(#bCov)"/><rect x="1939.5" y="889" width="13" height="53.5" fill="url(#bNv)"/><rect x="2272" y="62" width="13" height="53.5" fill="url(#bCv)"/><rect x="2272" y="115.5" width="13" height="67.5" fill="url(#bFev)"/><rect x="2272" y="183" width="13" height="67.5" fill="url(#bFev)"/><rect x="2272" y="250.5" width="13" height="53.5" fill="url(#bCv)"/><rect x="2272" y="304" width="13" height="39" fill="url(#bCv)"/><rect x="2272" y="343" width="13" height="39" fill="url(#bNv)"/><rect x="2272" y="382" width="13" height="53.5" fill="url(#bNv)"/><rect x="2272" y="435.5" width="13" height="67.5" fill="url(#bCov)"/><rect x="2272" y="503" width="13" height="67.5" fill="url(#bCov)"/><rect x="2272" y="570.5" width="13" height="53.5" fill="url(#bNv)"/><rect x="2272" y="624" width="13" height="39" fill="url(#bNv)"/><rect x="2272" y="663" width="13" height="39" fill="url(#bCv)"/><rect x="2272" y="702" width="13" height="52.8" fill="url(#bCv)"/><rect x="2272" y="754.8" width="13" height="66.8" fill="url(#bFev)"/><rect x="2272" y="821.5" width="13" height="67.5" fill="url(#bFev)"/><rect x="2272" y="889" width="13" height="53.5" fill="url(#bCv)"/><circle cx="1739" cy="183" r="19" fill="url(#gC)"/><circle cx="1819" cy="183" r="19" fill="url(#gN)"/><circle cx="2072" cy="183" r="19" fill="url(#gN)"/><circle cx="2152" cy="183" r="19" fill="url(#gC)"/><circle cx="1739" cy="503" r="19" fill="url(#gN)"/><circle cx="1819" cy="503" r="19" fill="url(#gC)"/><circle cx="2072" cy="503" r="19" fill="url(#gC)"/><circle cx="2152" cy="503" r="19" fill="url(#gN)"/><circle cx="1739" cy="821.5" r="19" fill="url(#gC)"/><circle cx="1819" cy="821.5" r="19" fill="url(#gN)"/><circle cx="2072" cy="821.5" r="19" fill="url(#gN)"/><circle cx="2152" cy="821.5" r="19" fill="url(#gC)"/><circle cx="1613" cy="304" r="19" fill="url(#gC)"/><circle cx="1613" cy="382" r="19" fill="url(#gN)"/><circle cx="1613" cy="624" r="19" fill="url(#gN)"/><circle cx="1613" cy="702" r="19" fill="url(#gC)"/><circle cx="1946" cy="304" r="19" fill="url(#gN)"/><circle cx="1946" cy="382" r="19" fill="url(#gC)"/><circle cx="1946" cy="624" r="19" fill="url(#gC)"/><circle cx="1946" cy="702" r="19" fill="url(#gN)"/><circle cx="2278.5" cy="304" r="19" fill="url(#gC)"/><circle cx="2278.5" cy="382" r="19" fill="url(#gN)"/><circle cx="2278.5" cy="624" r="19" fill="url(#gN)"/><circle cx="2278.5" cy="702" r="19" fill="url(#gC)"/><circle cx="1613" cy="183" r="33" fill="url(#gFe)"/><circle cx="1613" cy="503" r="33" fill="url(#gCo)"/><circle cx="1613" cy="821.5" r="33" fill="url(#gFe)"/><circle cx="1946" cy="183" r="33" fill="url(#gCo)"/><circle cx="1946" cy="503" r="33" fill="url(#gFe)"/><circle cx="1946" cy="821.5" r="33" fill="url(#gCo)"/><circle cx="2278.5" cy="183" r="33" fill="url(#gFe)"/><circle cx="2278.5" cy="503" r="33" fill="url(#gCo)"/><circle cx="2278.5" cy="821.5" r="33" fill="url(#gFe)"/><rect x="315.2" y="1016.7" width="116.1" height="116.8" fill="none" stroke="#dcdcdc" stroke-width="1.5"/><path d="M593.5 994 V1133 H735" fill="none" stroke="#dcdcdc" stroke-width="1.5"/><rect x="887.8" y="1016.7" width="185.8" height="126.3" fill="none" stroke="#dcdcdc" stroke-width="1.5"/><rect x="1252" y="1016.7" width="92.7" height="92.6" fill="none" stroke="#dcdcdc" stroke-width="1.5"/><line x1="1536.7" y1="1013" x2="1536.7" y2="1112" stroke="#dcdcdc" stroke-width="1.5"/><circle cx="353" cy="1060" r="30.8" fill="#ff00ff"/><circle cx="639.7" cy="1063" r="45" fill="#0000ff"/><circle cx="973.7" cy="1063.5" r="48.4" fill="#00ff00"/><circle cx="1289.5" cy="1065" r="31" fill="#a85400"/><circle cx="1583.5" cy="1063.5" r="30" fill="#4ea6e2"/><text transform="translate(419 1152)" style="font-family:'Liberation Sans',Arial,sans-serif;font-size:120px" text-anchor="start" fill="#000">N</text><text transform="translate(730 1163) scale(0.98 1)" style="font-family:'Liberation Sans',Arial,sans-serif;font-size:120px" text-anchor="start" fill="#000">Co</text><text transform="translate(1083 1164) scale(0.97 1)" style="font-family:'Liberation Sans',Arial,sans-serif;font-size:120px" text-anchor="start" fill="#000">Al</text><text transform="translate(1373 1169) scale(0.99 1)" style="font-family:'Liberation Sans',Arial,sans-serif;font-size:120px" text-anchor="start" fill="#000">Fe</text><text transform="translate(1639 1164) scale(0.98 1)" style="font-family:'Liberation Sans',Arial,sans-serif;font-size:120px" text-anchor="start" fill="#000">C</text><text transform="translate(75 131.2) scale(1.04 1)" style="font-family:'Liberation Serif','Times New Roman',serif;font-weight:bold;font-size:102px" text-anchor="start" fill="#000">(a)</text><text transform="translate(1199 137.7) scale(1.04 1)" style="font-family:'Liberation Serif','Times New Roman',serif;font-weight:bold;font-size:102px" text-anchor="start" fill="#000">(b)</text><text transform="translate(95.1 1251.3)" style="font-family:'Liberation Serif','Times New Roman',serif;font-weight:bold;font-size:102px" text-anchor="start" fill="#000">(c)</text><line x1="519" y1="1473.45" x2="2121" y2="1473.45" stroke="#4daef5" stroke-width="6" stroke-dasharray="13 26"/><line x1="419.5" y1="1392.5" x2="519.05" y2="2130.52" stroke="#52b0f8" stroke-width="5.5" stroke-dasharray="27 14 10 14 10 16"/><line x1="678.55" y1="2130.52" x2="769.8" y2="1935.53" stroke="#52b0f8" stroke-width="5.5" stroke-dasharray="27 14 10 14 10 16"/><line x1="929.3" y1="1935.53" x2="1020.55" y2="1741.25" stroke="#52b0f8" stroke-width="5.5" stroke-dasharray="27 14 10 14 10 16"/><line x1="1180.05" y1="1741.25" x2="1271.3" y2="1646.98" stroke="#52b0f8" stroke-width="5.5" stroke-dasharray="27 14 10 14 10 16"/><line x1="1430.8" y1="1646.98" x2="1522.05" y2="1631.04" stroke="#52b0f8" stroke-width="5.5" stroke-dasharray="27 14 10 14 10 16"/><line x1="1681.55" y1="1631.04" x2="1772.8" y2="1852.99" stroke="#52b0f8" stroke-width="5.5" stroke-dasharray="27 14 10 14 10 16"/><line x1="1932.3" y1="1852.99" x2="2023.55" y2="1905.05" stroke="#52b0f8" stroke-width="5.5" stroke-dasharray="27 14 10 14 10 16"/><line x1="2183.05" y1="1905.05" x2="2274.3" y2="1501" stroke="#52b0f8" stroke-width="5.5" stroke-dasharray="27 14 10 14 10 16"/><line x1="427.8" y1="1389.5" x2="519.05" y2="1863.19" stroke="#ff8a10" stroke-width="5.5" stroke-dasharray="17.5 9.5"/><line x1="678.55" y1="1863.19" x2="769.8" y2="1810.43" stroke="#ff8a10" stroke-width="5.5" stroke-dasharray="17.5 9.5"/><line x1="929.3" y1="1810.43" x2="1020.55" y2="1573.93" stroke="#ff8a10" stroke-width="5.5" stroke-dasharray="17.5 9.5"/><line x1="1180.05" y1="1573.93" x2="1271.3" y2="1493.03" stroke="#ff8a10" stroke-width="5.5" stroke-dasharray="17.5 9.5"/><line x1="1430.8" y1="1493.03" x2="1522.05" y2="1340.61" stroke="#ff8a10" stroke-width="5.5" stroke-dasharray="17.5 9.5"/><line x1="1681.55" y1="1340.61" x2="1772.8" y2="1716.98" stroke="#ff8a10" stroke-width="5.5" stroke-dasharray="17.5 9.5"/><line x1="1932.3" y1="1716.98" x2="2023.55" y2="1687.32" stroke="#ff8a10" stroke-width="5.5" stroke-dasharray="17.5 9.5"/><line x1="2183.05" y1="1687.32" x2="2274.3" y2="1501" stroke="#ff8a10" stroke-width="5.5" stroke-dasharray="17.5 9.5"/><line x1="778.3" y1="1573.93" x2="1018" y2="1573.93" stroke="#ff1010" stroke-width="6" stroke-dasharray="31 15 11 15 11 17"/><line x1="2179.3" y1="1905.05" x2="2426" y2="1905.05" stroke="#ff1010" stroke-width="5.5" stroke-dasharray="32 15 11 15 11 17"/><line x1="523.55" y1="2130.52" x2="674.05" y2="2130.52" stroke="#0a0aff" stroke-width="9" stroke-linecap="round"/><line x1="774.3" y1="1935.53" x2="924.8" y2="1935.53" stroke="#0a0aff" stroke-width="9" stroke-linecap="round"/><line x1="1025.05" y1="1741.25" x2="1175.55" y2="1741.25" stroke="#0a0aff" stroke-width="9" stroke-linecap="round"/><line x1="1275.8" y1="1646.98" x2="1426.3" y2="1646.98" stroke="#0a0aff" stroke-width="9" stroke-linecap="round"/><line x1="1526.55" y1="1631.04" x2="1677.05" y2="1631.04" stroke="#0a0aff" stroke-width="9" stroke-linecap="round"/><line x1="1777.3" y1="1852.99" x2="1927.8" y2="1852.99" stroke="#0a0aff" stroke-width="9" stroke-linecap="round"/><line x1="2028.05" y1="1905.05" x2="2178.55" y2="1905.05" stroke="#0a0aff" stroke-width="9" stroke-linecap="round"/><line x1="2278.8" y1="1501" x2="2426" y2="1501" stroke="#0a0aff" stroke-width="9" stroke-linecap="round"/><line x1="274.9" y1="1389.5" x2="423.3" y2="1389.5" stroke="#ff0000" stroke-width="9" stroke-linecap="round"/><line x1="523.55" y1="1863.19" x2="674.05" y2="1863.19" stroke="#ff0000" stroke-width="9" stroke-linecap="round"/><line x1="774.3" y1="1810.43" x2="924.8" y2="1810.43" stroke="#ff0000" stroke-width="9" stroke-linecap="round"/><line x1="1025.05" y1="1573.93" x2="1175.55" y2="1573.93" stroke="#ff0000" stroke-width="9" stroke-linecap="round"/><line x1="1275.8" y1="1493.03" x2="1426.3" y2="1493.03" stroke="#ff0000" stroke-width="9" stroke-linecap="round"/><line x1="1526.55" y1="1340.61" x2="1677.05" y2="1340.61" stroke="#ff0000" stroke-width="9" stroke-linecap="round"/><line x1="1777.3" y1="1716.98" x2="1927.8" y2="1716.98" stroke="#ff0000" stroke-width="9" stroke-linecap="round"/><line x1="2028.05" y1="1687.32" x2="2178.55" y2="1687.32" stroke="#ff0000" stroke-width="9" stroke-linecap="round"/><line x1="2278.8" y1="1501" x2="2426" y2="1501" stroke="#ff0000" stroke-width="9" stroke-linecap="round"/><line x1="903.3" y1="1599.7" x2="903.3" y2="1785.5" stroke="#1010ee" stroke-width="2.5"/><path d="M903.3 1589.7 L896.8 1608.7 L903.3 1605.7 L909.8 1608.7 Z" fill="#1010ee"/><path d="M903.3 1795.5 L896.8 1776.5 L903.3 1779.5 L909.8 1776.5 Z" fill="#1010ee"/><line x1="2293.8" y1="1528.7" x2="2293.8" y2="1871" stroke="#1010ee" stroke-width="2.5"/><path d="M2293.8 1518.7 L2287.3 1537.7 L2293.8 1534.7 L2300.3 1537.7 Z" fill="#1010ee"/><path d="M2293.8 1881 L2287.3 1862 L2293.8 1865 L2300.3 1862 Z" fill="#1010ee"/><text transform="translate(839 1803) rotate(-90)" style="font-family:'Liberation Serif','Times New Roman',serif;font-size:60px" text-anchor="start" fill="#1414e6">2.107 eV</text><text transform="translate(2349 1824) rotate(-90)" style="font-family:'Liberation Serif','Times New Roman',serif;font-size:60px" text-anchor="start" fill="#1414e6">3.445 eV</text><rect x="272.9" y="1271.5" width="2155.1" height="938.8" fill="none" stroke="#000" stroke-width="5.5"/><line x1="256" y1="1272.25" x2="272.9" y2="1272.25" stroke="#000" stroke-width="5"/><text transform="translate(242.5 1291.75) scale(1.09 1)" style="font-family:'Liberation Sans',Arial,sans-serif;font-size:70px" text-anchor="end" fill="#000">1</text><line x1="263.5" y1="1330.88" x2="272.9" y2="1330.88" stroke="#000" stroke-width="5"/><line x1="256" y1="1389.5" x2="272.9" y2="1389.5" stroke="#000" stroke-width="5"/><text transform="translate(242.5 1409) scale(1.09 1)" style="font-family:'Liberation Sans',Arial,sans-serif;font-size:70px" text-anchor="end" fill="#000">0</text><line x1="263.5" y1="1448.12" x2="272.9" y2="1448.12" stroke="#000" stroke-width="5"/><line x1="256" y1="1506.75" x2="272.9" y2="1506.75" stroke="#000" stroke-width="5"/><text transform="translate(242.5 1526.25) scale(1.09 1)" style="font-family:'Liberation Sans',Arial,sans-serif;font-size:70px" text-anchor="end" fill="#000">−1</text><line x1="263.5" y1="1565.38" x2="272.9" y2="1565.38" stroke="#000" stroke-width="5"/><line x1="256" y1="1624" x2="272.9" y2="1624" stroke="#000" stroke-width="5"/><text transform="translate(242.5 1643.5) scale(1.09 1)" style="font-family:'Liberation Sans',Arial,sans-serif;font-size:70px" text-anchor="end" fill="#000">−2</text><line x1="263.5" y1="1682.62" x2="272.9" y2="1682.62" stroke="#000" stroke-width="5"/><line x1="256" y1="1741.25" x2="272.9" y2="1741.25" stroke="#000" stroke-width="5"/><text transform="translate(242.5 1760.75) scale(1.09 1)" style="font-family:'Liberation Sans',Arial,sans-serif;font-size:70px" text-anchor="end" fill="#000">−3</text><line x1="263.5" y1="1799.88" x2="272.9" y2="1799.88" stroke="#000" stroke-width="5"/><line x1="256" y1="1858.5" x2="272.9" y2="1858.5" stroke="#000" stroke-width="5"/><text transform="translate(242.5 1878) scale(1.09 1)" style="font-family:'Liberation Sans',Arial,sans-serif;font-size:70px" text-anchor="end" fill="#000">−4</text><line x1="263.5" y1="1917.12" x2="272.9" y2="1917.12" stroke="#000" stroke-width="5"/><line x1="256" y1="1975.75" x2="272.9" y2="1975.75" stroke="#000" stroke-width="5"/><text transform="translate(242.5 1995.25) scale(1.09 1)" style="font-family:'Liberation Sans',Arial,sans-serif;font-size:70px" text-anchor="end" fill="#000">−5</text><line x1="263.5" y1="2034.38" x2="272.9" y2="2034.38" stroke="#000" stroke-width="5"/><line x1="256" y1="2093" x2="272.9" y2="2093" stroke="#000" stroke-width="5"/><text transform="translate(242.5 2112.5) scale(1.09 1)" style="font-family:'Liberation Sans',Arial,sans-serif;font-size:70px" text-anchor="end" fill="#000">−6</text><line x1="263.5" y1="2151.62" x2="272.9" y2="2151.62" stroke="#000" stroke-width="5"/><line x1="256" y1="2210.25" x2="272.9" y2="2210.25" stroke="#000" stroke-width="5"/><text transform="translate(242.5 2229.75) scale(1.09 1)" style="font-family:'Liberation Sans',Arial,sans-serif;font-size:70px" text-anchor="end" fill="#000">−7</text><text transform="translate(89.5 2066.8) rotate(-90)" style="font-family:'Liberation Sans',Arial,sans-serif;font-size:85px" text-anchor="start" fill="#000">Free energy (eV)</text><text transform="translate(286 1360.3) scale(1.06 1)" style="font-family:'Liberation Sans',Arial,sans-serif;font-size:65.5px" text-anchor="start" fill="#000"><tspan>CON</tspan><tspan dy="14.74" style="font-size:45.85px">2</tspan><tspan dy="-14.74">H</tspan><tspan dy="14.74" style="font-size:45.85px">4</tspan></text><text transform="translate(470 2189) scale(1.06 1)" style="font-family:'Liberation Sans',Arial,sans-serif;font-size:65.5px" text-anchor="start" fill="#000"><tspan>*CON</tspan><tspan dy="14.74" style="font-size:45.85px">2</tspan><tspan dy="-14.74">H</tspan><tspan dy="14.74" style="font-size:45.85px">4</tspan></text><text transform="translate(745 2027) scale(1.06 1)" style="font-family:'Liberation Sans',Arial,sans-serif;font-size:65.5px" text-anchor="start" fill="#000"><tspan>*CON</tspan><tspan dy="14.74" style="font-size:45.85px">2</tspan><tspan dy="-14.74">H</tspan><tspan dy="14.74" style="font-size:45.85px">3</tspan></text><text transform="translate(1004 1822) scale(1.06 1)" style="font-family:'Liberation Sans',Arial,sans-serif;font-size:65.5px" text-anchor="start" fill="#000"><tspan>*CON</tspan><tspan dy="14.74" style="font-size:45.85px">2</tspan><tspan dy="-14.74">H</tspan><tspan dy="14.74" style="font-size:45.85px">2</tspan></text><text transform="translate(1255 1713.5) scale(1.06 1)" style="font-family:'Liberation Sans',Arial,sans-serif;font-size:65.5px" text-anchor="start" fill="#000"><tspan>*CON</tspan><tspan dy="14.74" style="font-size:45.85px">2</tspan><tspan dy="-14.74">H</tspan></text><text transform="translate(1519 1710.5) scale(1.06 1)" style="font-family:'Liberation Sans',Arial,sans-serif;font-size:65.5px" text-anchor="start" fill="#000"><tspan>*CON</tspan><tspan dy="14.74" style="font-size:45.85px">2</tspan></text><text transform="translate(1795 1928) scale(1.06 1)" style="font-family:'Liberation Sans',Arial,sans-serif;font-size:65.5px" text-anchor="start" fill="#000"><tspan>*CO</tspan></text><text transform="translate(2014 1983) scale(1.06 1)" style="font-family:'Liberation Sans',Arial,sans-serif;font-size:65.5px" text-anchor="start" fill="#000"><tspan>*COOH</tspan></text><text transform="translate(2260 1463.5) scale(1.06 1)" style="font-family:'Liberation Sans',Arial,sans-serif;font-size:65.5px" text-anchor="start" fill="#000"><tspan>*CO</tspan><tspan dy="14.74" style="font-size:45.85px">2</tspan></text><line x1="1836" y1="2068.7" x2="1950" y2="2068.7" stroke="#0a0aff" stroke-width="9" stroke-linecap="round"/><line x1="1836" y1="2158" x2="1950" y2="2158" stroke="#ff0000" stroke-width="9" stroke-linecap="round"/><text transform="translate(1961 2081.6) scale(1.05 1)" style="font-family:'Liberation Sans',Arial,sans-serif;font-size:65.5px" text-anchor="start" fill="#000"><tspan>Co</tspan><tspan dy="14.74" style="font-size:45.85px">2</tspan><tspan dy="-14.74">Fe (CN)</tspan><tspan dy="14.74" style="font-size:45.85px">6</tspan></text><text transform="translate(1967 2172) scale(1.04 1)" style="font-family:'Liberation Sans',Arial,sans-serif;font-size:65.5px" text-anchor="start" fill="#000"><tspan>Al-Co</tspan><tspan dy="14.74" style="font-size:45.85px">2</tspan><tspan dy="-14.74">Fe(CN)</tspan><tspan dy="14.74" style="font-size:45.85px">6</tspan></text><clipPath id="clipd"><rect x="280.4" y="2337.7" width="995.8" height="752.8"/></clipPath><g clip-path="url(#clipd)"><line x1="280.4" y1="2687" x2="1276.2" y2="2687" stroke="#969696" stroke-width="3"/><path d="M357.3 2686.7 C358.2 2685.7 360.8 2681.0 362.5 2680.5 C364.2 2680.1 364.9 2688.8 367.6 2684.0 C370.4 2679.1 375.8 2653.9 379.0 2651.3 C382.1 2648.7 384.1 2662.6 386.5 2668.5 C388.9 2674.4 389.4 2683.7 393.4 2686.7 C397.4 2689.7 406.9 2688.9 410.6 2686.7 C414.3 2684.5 414.0 2677.3 415.7 2673.6 C417.5 2670.0 419.2 2665.9 420.9 2665.1 C422.6 2664.2 424.3 2669.9 426.0 2668.5 C427.8 2667.1 429.5 2657.0 431.2 2656.5 C432.9 2655.9 434.6 2662.8 436.4 2665.1 C438.1 2667.3 439.8 2668.2 441.5 2670.2 C443.2 2672.2 444.9 2677.9 446.7 2677.1 C448.4 2676.2 450.1 2668.8 451.8 2665.1 C453.5 2661.3 455.3 2655.3 457.0 2654.7 C458.7 2654.2 460.4 2660.8 462.1 2661.6 C463.8 2662.5 465.6 2662.5 467.3 2659.9 C469.0 2657.3 470.4 2652.5 472.4 2646.2 C474.4 2639.9 477.0 2627.0 479.3 2622.1 C481.6 2617.2 483.9 2618.1 486.2 2616.9 C488.5 2615.8 491.1 2612.6 493.1 2615.2 C495.1 2617.8 496.5 2626.1 498.2 2632.4 C499.9 2638.7 501.4 2652.7 503.4 2653.0 C505.4 2653.3 508.2 2633.0 510.2 2634.1 C512.2 2635.3 513.7 2653.9 515.4 2659.9 C517.1 2665.9 518.5 2673.6 520.5 2670.2 C522.6 2666.8 524.8 2651.3 527.4 2639.3 C530.0 2627.3 533.7 2601.5 536.0 2598.0 C538.3 2594.6 539.5 2610.9 541.2 2618.7 C542.9 2626.4 544.6 2640.7 546.3 2644.4 C548.0 2648.2 550.0 2641.3 551.5 2641.0 C552.9 2640.7 553.5 2644.1 554.9 2642.7 C556.3 2641.3 558.1 2638.1 560.1 2632.4 C562.1 2626.7 564.7 2614.7 566.9 2608.4 C569.2 2602.1 571.8 2595.2 573.8 2594.6 C575.8 2594.0 577.3 2598.6 579.0 2604.9 C580.7 2611.2 582.4 2619.8 584.1 2632.4 C585.8 2645.0 587.3 2674.8 589.3 2680.5 C591.3 2686.2 593.9 2670.8 596.2 2666.8 C598.4 2662.8 600.7 2662.2 603.0 2656.5 C605.3 2650.7 607.6 2643.9 609.9 2632.4 C612.2 2621.0 614.5 2600.9 616.8 2587.7 C619.1 2574.6 621.4 2553.9 623.6 2553.4 C625.9 2552.8 628.2 2575.7 630.5 2584.3 C632.8 2592.9 635.4 2602.6 637.4 2604.9 C639.4 2607.2 640.8 2601.2 642.5 2598.0 C644.3 2594.9 645.7 2585.4 647.7 2586.0 C649.7 2586.6 652.3 2595.5 654.6 2601.5 C656.9 2607.5 659.4 2622.7 661.4 2622.1 C663.4 2621.5 665.2 2604.6 666.6 2598.0 C668.0 2591.5 668.6 2581.4 670.0 2582.6 C671.5 2583.7 673.8 2598.3 675.2 2604.9 C676.6 2611.5 676.9 2625.0 678.6 2622.1 C680.3 2619.2 682.9 2600.6 685.5 2587.7 C688.1 2574.8 691.5 2548.8 694.1 2544.8 C696.7 2540.8 699.0 2552.5 701.0 2563.7 C703.0 2574.8 704.4 2610.6 706.1 2611.8 C707.8 2612.9 709.6 2583.4 711.3 2570.5 C713.0 2557.7 714.7 2538.5 716.4 2534.5 C718.1 2530.5 719.9 2545.1 721.6 2546.5 C723.3 2547.9 725.0 2536.2 726.7 2543.1 C728.5 2549.9 730.2 2572.8 731.9 2587.7 C733.6 2602.6 735.0 2630.7 737.0 2632.4 C739.0 2634.1 741.6 2608.1 743.9 2598.0 C746.2 2588.0 748.5 2571.1 750.8 2572.3 C753.1 2573.4 756.1 2600.6 757.7 2604.9 C759.2 2609.2 758.8 2589.9 760.0 2597.9 C761.2 2605.9 763.4 2647.8 765.2 2652.9 C766.9 2658.1 768.3 2638.3 770.3 2628.9 C772.3 2619.4 774.9 2600.2 777.2 2596.2 C779.5 2592.2 781.5 2606.0 784.0 2604.8 C786.6 2603.7 789.8 2600.2 792.6 2589.4 C795.5 2578.5 798.6 2543.8 801.2 2539.5 C803.8 2535.3 805.8 2552.7 808.1 2563.6 C810.4 2574.5 813.0 2603.7 815.0 2604.8 C817.0 2606.0 818.4 2587.6 820.1 2570.5 C821.8 2553.3 823.6 2513.2 825.3 2501.8 C827.0 2490.3 829.0 2501.2 830.4 2501.8 C831.9 2502.3 832.4 2501.2 833.9 2505.2 C835.3 2509.2 837.3 2532.7 839.0 2525.8 C840.7 2518.9 842.7 2488.0 844.2 2464.0 C845.6 2439.9 846.6 2397.6 847.6 2381.5 C848.6 2365.5 849.1 2367.8 850.0 2367.8 C850.9 2367.8 851.7 2364.9 852.8 2381.5 C853.8 2398.1 854.8 2429.0 856.2 2467.4 C857.6 2505.8 859.6 2585.4 861.3 2611.7 C863.1 2638.0 864.5 2623.1 866.5 2625.4 C868.5 2627.7 871.4 2629.4 873.4 2625.4 C875.4 2621.4 877.1 2605.4 878.5 2601.4 C879.9 2597.4 880.2 2597.4 882.0 2601.4 C883.7 2605.4 886.8 2627.1 888.8 2625.4 C890.8 2623.7 892.3 2603.1 894.0 2591.1 C895.7 2579.1 897.4 2561.9 899.1 2553.3 C900.8 2544.7 902.6 2539.5 904.3 2539.5 C906.0 2539.5 908.0 2545.3 909.4 2553.3 C910.9 2561.3 910.9 2570.5 912.9 2587.6 C914.9 2604.8 919.2 2646.6 921.5 2656.3 C923.7 2666.1 924.9 2647.8 926.6 2646.0 C928.3 2644.3 930.0 2643.8 931.8 2646.0 C933.5 2648.3 935.2 2654.1 936.9 2659.8 C938.6 2665.5 940.1 2678.1 942.1 2680.4 C944.1 2682.7 946.4 2678.7 948.9 2673.5 C951.5 2668.4 955.2 2651.8 957.5 2649.5 C959.8 2647.2 961.0 2655.2 962.7 2659.8 C964.4 2664.4 965.0 2673.5 967.8 2677.0 C970.7 2680.4 976.7 2686.7 979.9 2680.4 C983.0 2674.1 984.4 2652.9 986.7 2639.2 C989.0 2625.4 991.6 2600.8 993.6 2597.9 C995.6 2595.1 997.0 2609.4 998.7 2622.0 C1000.5 2634.6 1001.9 2667.2 1003.9 2673.5 C1005.9 2679.8 1008.5 2664.9 1010.8 2659.8 C1013.1 2654.6 1015.4 2642.6 1017.6 2642.6 C1019.9 2642.6 1022.2 2654.1 1024.5 2659.8 C1026.8 2665.5 1029.1 2677.0 1031.4 2677.0 C1033.7 2677.0 1035.7 2665.2 1038.3 2659.8 C1040.8 2654.3 1044.6 2644.3 1046.8 2644.3 C1049.1 2644.3 1050.3 2654.3 1052.0 2659.8 C1053.7 2665.2 1054.9 2674.7 1057.1 2677.0 C1059.4 2679.2 1063.2 2675.8 1065.7 2673.5 C1068.3 2671.2 1070.3 2667.8 1072.6 2663.2 C1074.9 2658.6 1077.5 2646.6 1079.5 2646.0 C1081.5 2645.5 1082.9 2653.5 1084.6 2659.8 C1086.3 2666.1 1086.6 2681.0 1089.8 2683.8 C1092.9 2686.7 1098.9 2677.5 1103.5 2677.0 C1108.1 2676.4 1113.8 2679.2 1117.3 2680.4 C1120.7 2681.5 1121.3 2682.7 1124.1 2683.8 C1127.0 2685.0 1131.9 2692.4 1134.4 2687.3 C1137.0 2682.1 1138.2 2660.4 1139.6 2652.9 C1141.0 2645.5 1141.6 2644.9 1143.0 2642.6 C1144.5 2640.3 1146.5 2645.5 1148.2 2639.2 C1149.9 2632.9 1151.6 2619.1 1153.3 2604.8 C1155.1 2590.5 1156.8 2557.9 1158.5 2553.3 C1160.2 2548.7 1162.2 2568.7 1163.6 2577.3 C1165.1 2585.9 1165.6 2606.0 1167.1 2604.8 C1168.5 2603.7 1170.5 2584.2 1172.2 2570.5 C1173.9 2556.7 1176.0 2535.8 1177.4 2522.4 C1178.8 2508.9 1179.7 2489.7 1180.8 2489.7 C1182.0 2489.7 1182.5 2507.8 1184.3 2522.4 C1186.0 2537.0 1188.8 2560.7 1191.1 2577.3 C1193.4 2593.9 1196.0 2618.6 1198.0 2622.0 C1200.0 2625.4 1201.4 2604.2 1203.1 2597.9 C1204.9 2591.7 1206.6 2583.1 1208.3 2584.2 C1210.0 2585.4 1211.7 2599.1 1213.5 2604.8 C1215.2 2610.5 1216.9 2616.3 1218.6 2618.6 C1220.3 2620.9 1221.8 2611.7 1223.8 2618.6 C1225.8 2625.4 1228.1 2650.1 1230.6 2659.8 C1233.2 2669.5 1236.4 2672.4 1239.2 2677.0 C1242.1 2681.5 1245.2 2685.5 1247.8 2687.3 C1250.4 2689.0 1253.5 2687.3 1254.7 2687.3" fill="none" stroke="#969696" stroke-width="2.2" stroke-linejoin="round"/><path d="M357.3 2686.7 C359.0 2688.0 364.0 2688.7 367.6 2694.3 C371.2 2699.8 375.8 2718.3 379.0 2720.0 C382.1 2721.8 384.1 2710.1 386.5 2704.6 C388.9 2699.0 389.4 2689.7 393.4 2686.7 C397.4 2683.7 406.9 2684.3 410.6 2686.7 C414.3 2689.1 414.0 2697.6 415.7 2701.1 C417.5 2704.7 418.9 2708.0 420.9 2708.0 C422.9 2708.0 425.8 2700.0 427.8 2701.1 C429.8 2702.3 430.6 2714.9 432.9 2714.9 C435.2 2714.9 438.9 2704.6 441.5 2701.1 C444.1 2697.7 446.1 2693.1 448.4 2694.3 C450.7 2695.4 452.7 2706.6 455.3 2708.0 C457.8 2709.4 461.3 2700.0 463.8 2702.9 C466.4 2705.7 468.1 2716.6 470.7 2725.2 C473.3 2733.8 476.7 2751.5 479.3 2754.4 C481.9 2757.3 483.9 2742.1 486.2 2742.4 C488.5 2742.7 490.8 2757.3 493.1 2756.1 C495.3 2755.0 497.6 2741.8 499.9 2735.5 C502.2 2729.2 504.5 2721.2 506.8 2718.3 C509.1 2715.5 511.4 2721.2 513.7 2718.3 C516.0 2715.5 518.3 2702.3 520.5 2701.1 C522.8 2700.0 525.1 2705.7 527.4 2711.4 C529.7 2717.2 532.0 2726.9 534.3 2735.5 C536.6 2744.1 538.9 2761.8 541.2 2763.0 C543.5 2764.1 545.8 2748.4 548.0 2742.4 C550.3 2736.4 552.6 2726.9 554.9 2726.9 C557.2 2726.9 559.5 2734.6 561.8 2742.4 C564.1 2750.1 566.4 2773.3 568.7 2773.3 C571.0 2773.3 573.2 2751.2 575.5 2742.4 C577.8 2733.5 580.1 2721.2 582.4 2720.0 C584.7 2718.9 587.3 2735.2 589.3 2735.5 C591.3 2735.8 592.7 2727.2 594.4 2721.8 C596.2 2716.3 597.6 2704.0 599.6 2702.9 C601.6 2701.7 604.2 2707.1 606.5 2714.9 C608.8 2722.6 611.0 2736.1 613.3 2749.2 C615.6 2762.4 618.5 2781.6 620.2 2793.9 C621.9 2806.2 622.2 2823.1 623.6 2823.1 C625.1 2823.1 627.1 2802.8 628.8 2793.9 C630.5 2785.0 631.9 2775.0 634.0 2769.9 C636.0 2764.7 638.5 2762.4 640.8 2763.0 C643.1 2763.6 645.4 2774.4 647.7 2773.3 C650.0 2772.2 652.3 2758.4 654.6 2756.1 C656.9 2753.8 659.2 2762.1 661.4 2759.6 C663.7 2757.0 666.0 2740.1 668.3 2740.7 C670.6 2741.2 672.6 2756.4 675.2 2763.0 C677.8 2769.6 681.2 2779.0 683.8 2780.2 C686.4 2781.3 688.1 2765.9 690.7 2769.9 C693.2 2773.9 696.7 2801.4 699.2 2804.2 C701.8 2807.1 703.8 2791.6 706.1 2787.0 C708.4 2782.5 710.7 2772.7 713.0 2776.7 C715.3 2780.7 717.3 2796.5 719.9 2811.1 C722.4 2825.7 726.2 2861.5 728.5 2864.4 C730.7 2867.2 731.3 2849.5 733.6 2828.3 C735.9 2807.1 739.6 2747.0 742.2 2737.2 C744.8 2727.5 747.1 2759.0 749.1 2769.9 C751.1 2780.7 752.4 2799.7 754.2 2802.5 C756.0 2805.3 757.9 2800.9 760.0 2786.9 C762.1 2772.8 764.9 2725.6 766.9 2718.2 C768.9 2710.7 770.0 2731.4 772.0 2742.2 C774.0 2753.1 776.9 2778.3 778.9 2783.5 C780.9 2788.6 782.0 2776.0 784.0 2773.1 C786.1 2770.3 788.6 2762.8 790.9 2766.3 C793.2 2769.7 795.5 2782.6 797.8 2793.8 C800.1 2804.9 802.7 2829.3 804.7 2833.3 C806.7 2837.3 807.8 2830.4 809.8 2817.8 C811.8 2805.2 814.4 2758.8 816.7 2757.7 C819.0 2756.5 821.5 2795.2 823.6 2810.9 C825.6 2826.7 827.0 2852.2 828.7 2852.2 C830.4 2852.2 831.6 2837.8 833.9 2810.9 C836.1 2784.0 839.3 2711.3 842.4 2690.7 C845.6 2670.1 849.3 2687.8 852.8 2687.3 C856.2 2686.7 860.5 2680.4 863.1 2687.3 C865.6 2694.1 865.9 2717.0 868.2 2728.5 C870.5 2739.9 873.6 2745.7 876.8 2756.0 C879.9 2766.3 884.2 2789.8 887.1 2790.3 C890.0 2790.9 891.7 2769.1 894.0 2759.4 C896.3 2749.7 898.8 2729.6 900.8 2731.9 C902.8 2734.2 904.6 2761.4 906.0 2773.1 C907.4 2784.9 907.7 2804.6 909.4 2802.3 C911.2 2800.1 914.0 2770.6 916.3 2759.4 C918.6 2748.2 921.2 2742.2 923.2 2735.4 C925.2 2728.5 926.6 2699.9 928.3 2718.2 C930.0 2736.5 932.0 2801.2 933.5 2845.3 C934.9 2889.4 935.8 2948.9 936.9 2982.7 C938.1 3016.5 939.2 3048.0 940.4 3048.0 C941.5 3048.0 942.6 3022.2 943.8 2982.7 C944.9 2943.2 946.1 2860.2 947.2 2810.9 C948.4 2761.7 948.7 2707.3 950.7 2687.3 C952.7 2667.2 956.7 2688.4 959.2 2690.7 C961.8 2693.0 963.8 2686.7 966.1 2701.0 C968.4 2715.3 970.7 2752.5 973.0 2776.6 C975.3 2800.6 977.6 2840.7 979.9 2845.3 C982.1 2849.9 984.4 2808.9 986.7 2804.1 C989.0 2799.2 991.3 2820.7 993.6 2816.1 C995.9 2811.5 998.2 2784.3 1000.5 2776.6 C1002.8 2768.9 1005.3 2778.3 1007.3 2769.7 C1009.3 2761.1 1011.1 2738.2 1012.5 2725.1 C1013.9 2711.9 1013.9 2693.6 1015.9 2690.7 C1017.9 2687.8 1021.9 2701.3 1024.5 2707.9 C1027.1 2714.5 1029.1 2731.4 1031.4 2730.2 C1033.7 2729.1 1035.7 2708.2 1038.3 2701.0 C1040.8 2693.8 1043.4 2688.4 1046.8 2687.3 C1050.3 2686.1 1055.1 2691.8 1058.9 2694.1 C1062.6 2696.4 1065.2 2695.3 1069.2 2701.0 C1073.2 2706.7 1079.5 2727.9 1082.9 2728.5 C1086.3 2729.1 1087.8 2711.3 1089.8 2704.4 C1091.8 2697.6 1092.6 2687.8 1094.9 2687.3 C1097.2 2686.7 1100.9 2696.4 1103.5 2701.0 C1106.1 2705.6 1107.5 2715.3 1110.4 2714.7 C1113.3 2714.2 1116.7 2702.2 1120.7 2697.6 C1124.7 2693.0 1131.0 2684.4 1134.4 2687.3 C1137.9 2690.1 1139.0 2707.9 1141.3 2714.7 C1143.6 2721.6 1145.9 2721.0 1148.2 2728.5 C1150.5 2735.9 1152.8 2746.2 1155.1 2759.4 C1157.3 2772.6 1159.9 2803.5 1161.9 2807.5 C1163.9 2811.5 1165.4 2792.3 1167.1 2783.5 C1168.8 2774.6 1170.5 2754.3 1172.2 2754.3 C1173.9 2754.3 1175.7 2771.4 1177.4 2783.5 C1179.1 2795.5 1180.5 2821.8 1182.5 2826.4 C1184.5 2831.0 1186.8 2818.7 1189.4 2810.9 C1192.0 2803.2 1195.1 2789.2 1198.0 2780.0 C1200.9 2770.9 1204.3 2757.7 1206.6 2756.0 C1208.9 2754.3 1210.0 2765.4 1211.7 2769.7 C1213.5 2774.0 1215.2 2782.9 1216.9 2781.7 C1218.6 2780.6 1220.3 2768.3 1222.0 2762.8 C1223.8 2757.4 1225.5 2749.1 1227.2 2749.1 C1228.9 2749.1 1230.9 2760.3 1232.3 2762.8 C1233.8 2765.4 1233.8 2770.9 1235.8 2764.6 C1237.8 2758.3 1241.2 2737.9 1244.4 2725.1 C1247.5 2712.2 1253.0 2693.6 1254.7 2687.3" fill="none" stroke="#969696" stroke-width="2.2" stroke-linejoin="round"/><path d="M451.8 2684.0 C457.5 2683.1 474.7 2679.9 486.2 2678.8 C497.6 2677.7 509.1 2677.4 520.5 2677.1 C532.0 2676.8 543.5 2675.6 554.9 2677.1 C566.4 2678.5 577.8 2687.4 589.3 2685.7 C600.7 2684.0 612.2 2669.3 623.6 2666.8 C635.1 2664.2 646.6 2671.4 658.0 2670.2 C669.5 2669.1 682.6 2661.6 692.4 2659.9 C702.1 2658.2 709.0 2658.2 716.4 2659.9 C723.9 2661.6 730.2 2668.2 737.0 2670.2 C743.9 2672.2 753.8 2671.9 757.7 2671.9 C761.5 2671.9 756.2 2670.4 760.0 2670.1 C763.8 2669.8 773.7 2671.8 780.6 2670.1 C787.5 2668.4 794.4 2659.2 801.2 2659.8 C808.1 2660.4 814.4 2669.5 821.8 2673.5 C829.3 2677.5 833.3 2682.1 845.9 2683.8 C858.5 2685.5 881.4 2683.3 897.4 2683.8 C913.4 2684.4 902.6 2686.7 942.1 2687.3 C981.6 2687.8 1098.9 2689.6 1134.4 2687.3 C1169.9 2685.0 1147.0 2677.0 1155.1 2673.5 C1163.1 2670.1 1173.9 2667.2 1182.5 2666.7 C1191.1 2666.1 1196.8 2666.7 1206.6 2670.1 C1216.3 2673.5 1235.2 2684.4 1240.9 2687.3" fill="none" stroke="#a8dcf4" stroke-width="2.3" stroke-linejoin="round"/><path d="M451.8 2689.1 C457.5 2690.3 474.7 2694.5 486.2 2696.0 C497.6 2697.4 509.1 2696.8 520.5 2697.7 C532.0 2698.6 543.5 2702.6 554.9 2701.1 C566.4 2699.7 577.8 2688.5 589.3 2689.1 C600.7 2689.7 612.2 2702.0 623.6 2704.6 C635.1 2707.1 646.6 2704.0 658.0 2704.6 C669.5 2705.1 683.2 2705.7 692.4 2708.0 C701.5 2710.3 707.0 2716.0 713.0 2718.3 C719.0 2720.6 721.0 2724.3 728.5 2721.8 C735.9 2719.2 752.4 2706.3 757.7 2702.9 C762.9 2699.4 756.2 2700.7 760.0 2701.0 C763.8 2701.3 773.7 2702.7 780.6 2704.4 C787.5 2706.2 794.4 2710.7 801.2 2711.3 C808.1 2711.9 814.4 2711.3 821.8 2707.9 C829.3 2704.4 825.8 2694.1 845.9 2690.7 C865.9 2687.3 894.0 2687.8 942.1 2687.3 C990.2 2686.7 1098.9 2685.0 1134.4 2687.3 C1169.9 2689.6 1147.0 2697.0 1155.1 2701.0 C1163.1 2705.0 1173.9 2711.3 1182.5 2711.3 C1191.1 2711.3 1196.8 2704.7 1206.6 2701.0 C1216.3 2697.3 1235.2 2691.0 1240.9 2689.0" fill="none" stroke="#a8dcf4" stroke-width="2.3" stroke-linejoin="round"/><path d="M451.8 2685.7 C463.3 2685.4 503.4 2684.2 520.5 2684.0 C537.7 2683.7 543.5 2683.7 554.9 2684.0 C566.4 2684.2 577.8 2686.8 589.3 2685.7 C600.7 2684.5 616.8 2679.7 623.6 2677.1 C630.5 2674.5 624.8 2671.4 630.5 2670.2 C636.2 2669.1 650.6 2669.9 658.0 2670.2 C665.5 2670.5 669.5 2670.8 675.2 2671.9 C680.9 2673.1 683.8 2676.2 692.4 2677.1 C701.0 2677.9 715.9 2675.9 726.7 2677.1 C737.6 2678.2 752.1 2682.8 757.7 2684.0 C763.2 2685.1 748.2 2683.9 760.0 2683.8 C771.8 2683.8 811.5 2683.3 828.7 2683.8 C845.9 2684.4 855.0 2687.8 863.1 2687.3 C871.1 2686.7 873.6 2685.5 876.8 2680.4 C879.9 2675.2 880.2 2663.2 882.0 2656.3 C883.7 2649.5 885.4 2640.3 887.1 2639.2 C888.8 2638.0 890.5 2650.6 892.3 2649.5 C894.0 2648.3 895.4 2640.3 897.4 2632.3 C899.4 2624.3 902.0 2604.8 904.3 2601.4 C906.6 2597.9 908.9 2603.7 911.2 2611.7 C913.4 2619.7 915.7 2638.6 918.0 2649.5 C920.3 2660.4 922.6 2671.2 924.9 2677.0 C927.2 2682.7 928.3 2682.1 931.8 2683.8 C935.2 2685.5 937.5 2686.7 945.5 2687.3 C953.5 2687.8 971.8 2688.4 979.9 2687.3 C987.9 2686.1 989.0 2681.0 993.6 2680.4 C998.2 2679.8 1000.5 2682.7 1007.3 2683.8 C1014.2 2685.0 1013.6 2686.7 1034.8 2687.3 C1056.0 2687.8 1115.5 2689.6 1134.4 2687.3 C1153.3 2685.0 1144.2 2679.0 1148.2 2673.5 C1152.2 2668.1 1155.1 2655.8 1158.5 2654.6 C1161.9 2653.5 1165.1 2668.7 1168.8 2666.7 C1172.5 2664.7 1176.8 2642.0 1180.8 2642.6 C1184.8 2643.2 1188.5 2663.8 1192.8 2670.1 C1197.1 2676.4 1201.4 2678.1 1206.6 2680.4 C1211.7 2682.7 1218.0 2682.7 1223.8 2683.8 C1229.5 2685.0 1238.1 2686.7 1240.9 2687.3" fill="none" stroke="#8b4a14" stroke-width="2.3" stroke-linejoin="round"/><path d="M451.8 2689.1 C469.0 2689.3 526.3 2688.7 554.9 2690.1 C583.6 2691.6 609.3 2695.3 623.6 2697.7 C638.0 2700.1 635.1 2704.0 640.8 2704.6 C646.6 2705.1 650.6 2701.7 658.0 2701.1 C665.5 2700.6 679.8 2702.3 685.5 2701.1 C691.2 2700.0 685.5 2695.4 692.4 2694.3 C699.2 2693.1 715.9 2694.9 726.7 2694.3 C737.6 2693.6 752.1 2690.7 757.7 2690.1 C763.2 2689.5 748.2 2690.6 760.0 2690.7 C771.8 2690.8 811.5 2690.7 828.7 2690.7 C845.9 2690.7 856.2 2687.8 863.1 2690.7 C869.9 2693.6 867.6 2706.2 869.9 2707.9 C872.2 2709.6 873.9 2698.1 876.8 2701.0 C879.7 2703.9 883.7 2722.2 887.1 2725.1 C890.5 2727.9 893.7 2714.2 897.4 2718.2 C901.1 2722.2 906.0 2749.7 909.4 2749.1 C912.9 2748.5 914.9 2721.6 918.0 2714.7 C921.2 2707.9 924.9 2708.4 928.3 2707.9 C931.8 2707.3 935.5 2711.9 938.6 2711.3 C941.8 2710.7 944.9 2707.9 947.2 2704.4 C949.5 2701.0 944.6 2692.4 952.4 2690.7 C960.1 2689.0 979.9 2694.1 993.6 2694.1 C1007.3 2694.1 1011.3 2691.8 1034.8 2690.7 C1058.3 2689.6 1115.5 2685.5 1134.4 2687.3 C1153.3 2689.0 1144.2 2695.9 1148.2 2701.0 C1152.2 2706.2 1155.1 2717.0 1158.5 2718.2 C1161.9 2719.3 1163.1 2708.4 1168.8 2707.9 C1174.5 2707.3 1186.5 2715.9 1192.8 2714.7 C1199.1 2713.6 1198.6 2705.3 1206.6 2701.0 C1214.6 2696.7 1235.2 2691.0 1240.9 2689.0" fill="none" stroke="#8b4a14" stroke-width="2.3" stroke-linejoin="round"/><path d="M357.3 2686.7 C358.8 2686.2 362.2 2685.7 365.9 2684.0 C369.6 2682.2 375.6 2676.3 379.7 2676.0 C383.7 2675.8 387.4 2680.5 390.0 2682.2 C392.5 2684.0 391.7 2686.0 395.1 2686.7 C398.6 2687.4 406.9 2687.2 410.6 2686.7 C414.3 2686.2 414.0 2685.0 417.5 2684.0 C420.9 2682.9 425.5 2680.5 431.2 2680.5 C436.9 2680.5 446.1 2684.0 451.8 2684.0 C457.5 2684.0 461.0 2682.2 465.6 2680.5 C470.1 2678.8 474.7 2675.4 479.3 2673.6 C483.9 2671.9 489.0 2669.6 493.1 2670.2 C497.1 2670.8 498.8 2677.1 503.4 2677.1 C507.9 2677.1 515.1 2672.5 520.5 2670.2 C526.0 2667.9 532.0 2662.8 536.0 2663.3 C540.0 2663.9 541.5 2671.9 544.6 2673.6 C547.8 2675.4 550.0 2675.4 554.9 2673.6 C559.8 2671.9 568.1 2661.6 573.8 2663.3 C579.5 2665.1 584.4 2680.5 589.3 2684.0 C594.1 2687.4 597.3 2688.5 603.0 2684.0 C608.8 2679.4 619.1 2658.8 623.6 2656.5 C628.2 2654.2 627.1 2669.1 630.5 2670.2 C634.0 2671.4 639.7 2663.9 644.3 2663.3 C648.8 2662.8 654.0 2667.1 658.0 2666.8 C662.0 2666.5 664.9 2660.5 668.3 2661.6 C671.8 2662.8 674.6 2675.1 678.6 2673.6 C682.6 2672.2 688.4 2655.0 692.4 2653.0 C696.4 2651.0 698.7 2663.0 702.7 2661.6 C706.7 2660.2 712.4 2646.4 716.4 2644.4 C720.4 2642.4 723.3 2645.9 726.7 2649.6 C730.2 2653.3 733.6 2666.5 737.0 2666.8 C740.5 2667.1 743.9 2651.6 747.4 2651.3 C750.8 2651.0 755.6 2661.3 757.7 2665.1 C759.8 2668.8 758.5 2672.7 760.0 2673.5 C761.5 2674.4 764.0 2673.0 766.9 2670.1 C769.7 2667.2 773.7 2658.1 777.2 2656.3 C780.6 2654.6 783.5 2662.6 787.5 2659.8 C791.5 2656.9 797.2 2639.2 801.2 2639.2 C805.2 2639.2 807.8 2657.2 811.5 2659.8 C815.3 2662.4 819.5 2651.2 823.6 2654.6 C827.6 2658.1 831.3 2676.7 835.6 2680.4 C839.9 2684.1 844.7 2677.0 849.3 2677.0 C853.9 2677.0 857.9 2680.4 863.1 2680.4 C868.2 2680.4 873.4 2679.8 880.2 2677.0 C887.1 2674.1 897.4 2662.6 904.3 2663.2 C911.2 2663.8 915.7 2676.4 921.5 2680.4 C927.2 2684.4 933.5 2686.7 938.6 2687.3 C943.8 2687.8 947.8 2683.8 952.4 2683.8 C957.0 2683.8 959.2 2688.4 966.1 2687.3 C973.0 2686.1 986.7 2677.0 993.6 2677.0 C1000.5 2677.0 1002.8 2686.7 1007.3 2687.3 C1011.9 2687.8 1016.5 2680.4 1021.1 2680.4 C1025.7 2680.4 1030.5 2687.3 1034.8 2687.3 C1039.1 2687.3 1042.3 2681.0 1046.8 2680.4 C1051.4 2679.8 1057.4 2683.3 1062.3 2683.8 C1067.2 2684.4 1071.5 2683.3 1076.0 2683.8 C1080.6 2684.4 1085.2 2686.7 1089.8 2687.3 C1094.4 2687.8 1096.1 2687.3 1103.5 2687.3 C1111.0 2687.3 1127.0 2689.6 1134.4 2687.3 C1141.9 2685.0 1144.2 2676.7 1148.2 2673.5 C1152.2 2670.4 1154.5 2668.9 1158.5 2668.4 C1162.5 2667.8 1168.5 2671.2 1172.2 2670.1 C1176.0 2668.9 1177.4 2661.5 1180.8 2661.5 C1184.3 2661.5 1188.5 2668.1 1192.8 2670.1 C1197.1 2672.1 1201.4 2672.4 1206.6 2673.5 C1211.7 2674.7 1218.0 2674.7 1223.8 2677.0 C1229.5 2679.2 1238.1 2685.5 1240.9 2687.3" fill="none" stroke="#ff1aff" stroke-width="2.3" stroke-linejoin="round"/><path d="M357.3 2686.7 C358.8 2687.2 362.2 2687.7 365.9 2689.5 C369.6 2691.2 375.6 2697.1 379.7 2697.4 C383.7 2697.6 387.4 2692.6 390.0 2690.8 C392.5 2689.0 391.7 2687.4 395.1 2686.7 C398.6 2686.0 404.6 2685.7 410.6 2686.7 C416.6 2687.7 424.3 2691.9 431.2 2692.5 C438.1 2693.2 443.8 2689.7 451.8 2690.8 C459.8 2692.0 472.4 2697.4 479.3 2699.4 C486.2 2701.4 488.5 2702.9 493.1 2702.9 C497.6 2702.9 502.2 2698.6 506.8 2699.4 C511.4 2700.3 515.7 2706.9 520.5 2708.0 C525.4 2709.2 530.3 2706.0 536.0 2706.3 C541.7 2706.6 548.9 2710.0 554.9 2709.7 C560.9 2709.4 566.4 2708.0 572.1 2704.6 C577.8 2701.1 584.1 2691.4 589.3 2689.1 C594.4 2686.8 597.3 2687.1 603.0 2690.8 C608.8 2694.5 617.9 2709.2 623.6 2711.4 C629.4 2713.7 632.8 2705.1 637.4 2704.6 C642.0 2704.0 646.0 2707.4 651.1 2708.0 C656.3 2708.6 663.7 2708.6 668.3 2708.0 C672.9 2707.4 674.6 2704.6 678.6 2704.6 C682.6 2704.6 687.8 2706.3 692.4 2708.0 C697.0 2709.7 702.1 2712.0 706.1 2714.9 C710.1 2717.7 712.7 2721.2 716.4 2725.2 C720.1 2729.2 725.0 2738.9 728.5 2738.9 C731.9 2738.9 733.9 2730.3 737.0 2725.2 C740.2 2720.0 743.9 2708.9 747.4 2708.0 C750.8 2707.1 755.6 2720.1 757.7 2720.0 C759.8 2720.0 757.9 2711.0 760.0 2707.9 C762.1 2704.7 766.9 2698.7 770.3 2701.0 C773.7 2703.3 777.2 2718.2 780.6 2721.6 C784.0 2725.1 787.2 2719.6 790.9 2721.6 C794.6 2723.6 799.5 2735.4 802.9 2733.6 C806.4 2731.9 807.8 2713.3 811.5 2711.3 C815.3 2709.3 821.3 2724.5 825.3 2721.6 C829.3 2718.8 829.3 2699.9 835.6 2694.1 C841.9 2688.4 855.6 2687.3 863.1 2687.3 C870.5 2687.3 874.5 2692.7 880.2 2694.1 C886.0 2695.6 892.3 2696.4 897.4 2695.9 C902.6 2695.3 906.6 2692.1 911.2 2690.7 C915.7 2689.3 919.2 2687.3 924.9 2687.3 C930.6 2687.3 938.6 2690.4 945.5 2690.7 C952.4 2691.0 958.1 2687.8 966.1 2689.0 C974.1 2690.1 986.7 2696.7 993.6 2697.6 C1000.5 2698.4 1002.8 2695.3 1007.3 2694.1 C1011.9 2693.0 1016.5 2691.8 1021.1 2690.7 C1025.7 2689.6 1015.9 2687.8 1034.8 2687.3 C1053.7 2686.7 1115.5 2685.5 1134.4 2687.3 C1153.3 2689.0 1143.6 2695.0 1148.2 2697.6 C1152.8 2700.1 1156.8 2701.0 1161.9 2702.7 C1167.1 2704.4 1173.9 2708.4 1179.1 2707.9 C1184.3 2707.3 1188.3 2700.7 1192.8 2699.3 C1197.4 2697.9 1201.4 2699.0 1206.6 2699.3 C1211.7 2699.6 1218.0 2702.7 1223.8 2701.0 C1229.5 2699.3 1238.1 2691.0 1240.9 2689.0" fill="none" stroke="#ff1aff" stroke-width="2.3" stroke-linejoin="round"/><path d="M357.3 2686.7 C363.6 2686.7 386.2 2686.7 395.1 2686.7 C404.0 2686.7 401.1 2687.2 410.6 2686.7 C420.0 2686.2 441.5 2685.0 451.8 2684.0 C462.1 2682.9 466.7 2682.2 472.4 2680.5 C478.2 2678.8 481.6 2673.1 486.2 2673.6 C490.8 2674.2 494.2 2682.2 499.9 2684.0 C505.7 2685.7 514.8 2685.7 520.5 2684.0 C526.3 2682.2 530.9 2674.8 534.3 2673.6 C537.7 2672.5 537.7 2675.9 541.2 2677.1 C544.6 2678.2 549.8 2679.9 554.9 2680.5 C560.1 2681.1 566.4 2679.7 572.1 2680.5 C577.8 2681.4 583.6 2684.5 589.3 2685.7 C595.0 2686.8 600.7 2690.0 606.5 2687.4 C612.2 2684.8 619.6 2671.4 623.6 2670.2 C627.7 2669.1 624.8 2678.8 630.5 2680.5 C636.2 2682.2 647.7 2681.9 658.0 2680.5 C668.3 2679.1 683.2 2673.1 692.4 2671.9 C701.5 2670.8 707.3 2672.8 713.0 2673.6 C718.7 2674.5 719.3 2675.9 726.7 2677.1 C734.2 2678.2 752.1 2679.4 757.7 2680.5 C763.2 2681.6 756.2 2683.3 760.0 2683.8 C763.8 2684.4 774.9 2686.1 780.6 2683.8 C786.3 2681.5 790.3 2673.0 794.4 2670.1 C798.4 2667.2 801.2 2669.5 804.7 2666.7 C808.1 2663.8 812.1 2658.1 815.0 2652.9 C817.8 2647.8 819.8 2642.6 821.8 2635.7 C823.8 2628.9 825.3 2623.7 827.0 2611.7 C828.7 2599.7 830.4 2572.8 832.1 2563.6 C833.9 2554.4 835.6 2561.3 837.3 2556.7 C839.0 2552.1 841.0 2551.0 842.4 2536.1 C843.9 2521.2 845.0 2488.0 845.9 2467.4 C846.7 2446.8 846.7 2421.6 847.6 2412.4 C848.5 2403.3 849.9 2411.3 851.0 2412.4 C852.2 2413.6 853.3 2404.4 854.5 2419.3 C855.6 2434.2 857.0 2476.6 857.9 2501.8 C858.8 2527.0 858.8 2548.7 859.6 2570.5 C860.5 2592.2 861.6 2619.1 863.1 2632.3 C864.5 2645.5 866.5 2647.8 868.2 2649.5 C869.9 2651.2 871.6 2640.9 873.4 2642.6 C875.1 2644.3 876.8 2655.8 878.5 2659.8 C880.2 2663.8 881.7 2663.8 883.7 2666.7 C885.7 2669.5 888.2 2674.1 890.5 2677.0 C892.8 2679.8 894.5 2685.0 897.4 2683.8 C900.3 2682.7 904.3 2670.7 907.7 2670.1 C911.2 2669.5 914.6 2681.0 918.0 2680.4 C921.5 2679.8 925.5 2667.2 928.3 2666.7 C931.2 2666.1 932.9 2673.5 935.2 2677.0 C937.5 2680.4 939.2 2685.5 942.1 2687.3 C944.9 2689.0 947.2 2687.3 952.4 2687.3 C957.5 2687.3 967.8 2689.6 973.0 2687.3 C978.1 2685.0 980.4 2679.2 983.3 2673.5 C986.2 2667.8 988.4 2658.4 990.2 2652.9 C991.9 2647.5 992.2 2639.7 993.6 2640.9 C995.0 2642.0 996.5 2653.2 998.7 2659.8 C1001.0 2666.4 1004.2 2678.1 1007.3 2680.4 C1010.5 2682.7 1014.8 2673.5 1017.6 2673.5 C1020.5 2673.5 1022.2 2676.1 1024.5 2680.4 C1026.8 2684.7 1029.1 2698.1 1031.4 2699.3 C1033.7 2700.4 1035.7 2693.6 1038.3 2687.3 C1040.8 2681.0 1044.3 2663.8 1046.8 2661.5 C1049.4 2659.2 1051.7 2669.2 1053.7 2673.5 C1055.7 2677.8 1056.3 2685.0 1058.9 2687.3 C1061.4 2689.6 1065.2 2683.3 1069.2 2687.3 C1073.2 2691.3 1079.5 2710.2 1082.9 2711.3 C1086.3 2712.5 1087.8 2698.1 1089.8 2694.1 C1091.8 2690.1 1087.5 2688.4 1094.9 2687.3 C1102.4 2686.1 1127.3 2688.1 1134.4 2687.3 C1141.6 2686.4 1132.7 2683.3 1137.9 2682.1 C1143.0 2681.0 1158.5 2681.0 1165.4 2680.4 C1172.2 2679.8 1174.5 2678.4 1179.1 2678.7 C1183.7 2679.0 1188.3 2681.3 1192.8 2682.1 C1197.4 2683.0 1198.6 2683.0 1206.6 2683.8 C1214.6 2684.7 1235.2 2686.7 1240.9 2687.3" fill="none" stroke="#1a1aff" stroke-width="2.3" stroke-linejoin="round"/><path d="M410.6 2686.7 C417.5 2687.1 439.2 2687.8 451.8 2689.1 C464.4 2690.4 474.7 2693.4 486.2 2694.3 C497.6 2695.1 512.5 2692.5 520.5 2694.3 C528.6 2696.0 528.6 2704.6 534.3 2704.6 C540.0 2704.6 545.8 2696.8 554.9 2694.3 C564.1 2691.7 577.8 2688.0 589.3 2689.1 C600.7 2690.3 612.2 2700.8 623.6 2701.1 C635.1 2701.4 646.6 2692.5 658.0 2690.8 C669.5 2689.1 680.9 2690.3 692.4 2690.8 C703.8 2691.4 715.9 2693.7 726.7 2694.3 C737.6 2694.8 752.1 2694.3 757.7 2694.3 C763.2 2694.2 756.2 2694.7 760.0 2694.1 C763.8 2693.5 774.9 2690.7 780.6 2690.7 C786.3 2690.7 790.3 2692.4 794.4 2694.1 C798.4 2695.9 800.7 2698.7 804.7 2701.0 C808.7 2703.3 814.4 2703.3 818.4 2707.9 C822.4 2712.5 825.8 2728.5 828.7 2728.5 C831.6 2728.5 833.3 2714.7 835.6 2707.9 C837.9 2701.0 837.9 2690.7 842.4 2687.3 C847.0 2683.8 857.9 2686.7 863.1 2687.3 C868.2 2687.8 870.5 2687.3 873.4 2690.7 C876.2 2694.1 877.9 2702.7 880.2 2707.9 C882.5 2713.0 884.8 2720.5 887.1 2721.6 C889.4 2722.8 891.7 2717.3 894.0 2714.7 C896.3 2712.2 898.6 2706.7 900.8 2706.2 C903.1 2705.6 904.9 2709.9 907.7 2711.3 C910.6 2712.7 915.2 2715.3 918.0 2714.7 C920.9 2714.2 922.9 2708.4 924.9 2707.9 C926.9 2707.3 928.6 2694.1 930.0 2711.3 C931.5 2728.5 932.3 2771.4 933.5 2810.9 C934.6 2850.4 935.8 2912.3 936.9 2948.3 C938.1 2984.4 939.2 3030.2 940.4 3027.4 C941.5 3024.5 942.6 2978.7 943.8 2931.2 C944.9 2883.6 946.1 2782.9 947.2 2742.2 C948.4 2701.6 947.5 2696.4 950.7 2687.3 C953.8 2678.1 962.4 2681.0 966.1 2687.3 C969.8 2693.6 970.7 2704.4 973.0 2725.1 C975.3 2745.7 978.1 2799.5 979.9 2810.9 C981.6 2822.4 981.9 2803.8 983.3 2793.8 C984.7 2783.7 985.6 2758.0 988.4 2750.8 C991.3 2743.7 997.3 2752.2 1000.5 2750.8 C1003.6 2749.4 1005.3 2747.7 1007.3 2742.2 C1009.3 2736.8 1010.8 2727.3 1012.5 2718.2 C1014.2 2709.0 1014.5 2690.4 1017.6 2687.3 C1020.8 2684.1 1026.2 2699.3 1031.4 2699.3 C1036.5 2699.3 1041.1 2688.1 1048.6 2687.3 C1056.0 2686.4 1070.3 2690.1 1076.0 2694.1 C1081.8 2698.1 1080.6 2710.7 1082.9 2711.3 C1085.2 2711.9 1087.8 2701.6 1089.8 2697.6 C1091.8 2693.6 1087.5 2689.0 1094.9 2687.3 C1102.4 2685.5 1122.7 2686.1 1134.4 2687.3 C1146.2 2688.4 1155.6 2693.6 1165.4 2694.1 C1175.1 2694.7 1180.2 2691.8 1192.8 2690.7 C1205.4 2689.6 1232.9 2687.8 1240.9 2687.3" fill="none" stroke="#1a1aff" stroke-width="2.3" stroke-linejoin="round"/><line x1="945.5" y1="2337.7" x2="945.5" y2="3090.5" stroke="#ff9a3a" stroke-width="2.5" stroke-dasharray="6 4"/></g><rect x="280.4" y="2337.7" width="995.8" height="752.8" fill="none" stroke="#000" stroke-width="5.5"/><line x1="280.1" y1="3090.5" x2="280.1" y2="3106.7" stroke="#000" stroke-width="5"/><text transform="translate(280.1 3165.5) scale(0.95 1)" style="font-family:'Liberation Sans',Arial,sans-serif;font-size:66px" text-anchor="middle" fill="#000">−12</text><line x1="335.55" y1="3090.5" x2="335.55" y2="3099.7" stroke="#000" stroke-width="5"/><line x1="391" y1="3090.5" x2="391" y2="3106.7" stroke="#000" stroke-width="5"/><text transform="translate(391 3165.5) scale(0.95 1)" style="font-family:'Liberation Sans',Arial,sans-serif;font-size:66px" text-anchor="middle" fill="#000">−10</text><line x1="446.45" y1="3090.5" x2="446.45" y2="3099.7" stroke="#000" stroke-width="5"/><line x1="501.9" y1="3090.5" x2="501.9" y2="3106.7" stroke="#000" stroke-width="5"/><text transform="translate(501.9 3165.5) scale(0.95 1)" style="font-family:'Liberation Sans',Arial,sans-serif;font-size:66px" text-anchor="middle" fill="#000">−8</text><line x1="557.35" y1="3090.5" x2="557.35" y2="3099.7" stroke="#000" stroke-width="5"/><line x1="612.8" y1="3090.5" x2="612.8" y2="3106.7" stroke="#000" stroke-width="5"/><text transform="translate(612.8 3165.5) scale(0.95 1)" style="font-family:'Liberation Sans',Arial,sans-serif;font-size:66px" text-anchor="middle" fill="#000">−6</text><line x1="668.25" y1="3090.5" x2="668.25" y2="3099.7" stroke="#000" stroke-width="5"/><line x1="723.7" y1="3090.5" x2="723.7" y2="3106.7" stroke="#000" stroke-width="5"/><text transform="translate(723.7 3165.5) scale(0.95 1)" style="font-family:'Liberation Sans',Arial,sans-serif;font-size:66px" text-anchor="middle" fill="#000">−4</text><line x1="779.15" y1="3090.5" x2="779.15" y2="3099.7" stroke="#000" stroke-width="5"/><line x1="834.6" y1="3090.5" x2="834.6" y2="3106.7" stroke="#000" stroke-width="5"/><text transform="translate(834.6 3165.5) scale(0.95 1)" style="font-family:'Liberation Sans',Arial,sans-serif;font-size:66px" text-anchor="middle" fill="#000">−2</text><line x1="890.05" y1="3090.5" x2="890.05" y2="3099.7" stroke="#000" stroke-width="5"/><line x1="945.5" y1="3090.5" x2="945.5" y2="3106.7" stroke="#000" stroke-width="5"/><text transform="translate(945.5 3165.5) scale(0.95 1)" style="font-family:'Liberation Sans',Arial,sans-serif;font-size:66px" text-anchor="middle" fill="#000">0</text><line x1="1000.95" y1="3090.5" x2="1000.95" y2="3099.7" stroke="#000" stroke-width="5"/><line x1="1056.4" y1="3090.5" x2="1056.4" y2="3106.7" stroke="#000" stroke-width="5"/><text transform="translate(1056.4 3165.5) scale(0.95 1)" style="font-family:'Liberation Sans',Arial,sans-serif;font-size:66px" text-anchor="middle" fill="#000">2</text><line x1="1111.85" y1="3090.5" x2="1111.85" y2="3099.7" stroke="#000" stroke-width="5"/><line x1="1167.3" y1="3090.5" x2="1167.3" y2="3106.7" stroke="#000" stroke-width="5"/><text transform="translate(1167.3 3165.5) scale(0.95 1)" style="font-family:'Liberation Sans',Arial,sans-serif;font-size:66px" text-anchor="middle" fill="#000">4</text><line x1="1222.75" y1="3090.5" x2="1222.75" y2="3099.7" stroke="#000" stroke-width="5"/><line x1="1278.2" y1="3090.5" x2="1278.2" y2="3106.7" stroke="#000" stroke-width="5"/><text transform="translate(1278.2 3165.5) scale(0.95 1)" style="font-family:'Liberation Sans',Arial,sans-serif;font-size:66px" text-anchor="middle" fill="#000">6</text><text transform="translate(586 3249.3)" style="font-family:'Liberation Sans',Arial,sans-serif;font-size:71.5px" text-anchor="start" fill="#000">Energy (eV)</text><text transform="translate(226 2836) rotate(-90)" style="font-family:'Liberation Sans',Arial,sans-serif;font-size:73px" text-anchor="start" fill="#000">DOS (eV)</text><text transform="translate(296 2410.5) scale(0.98 1)" style="font-family:'Liberation Sans',Arial,sans-serif;font-size:56.8px" text-anchor="start" fill="#000"><tspan>Co</tspan><tspan dy="12.78" style="font-size:39.76px">2</tspan><tspan dy="-12.78">Fe(CN)</tspan><tspan dy="12.78" style="font-size:39.76px">6</tspan></text><line x1="295.5" y1="2792.6" x2="391.9" y2="2792.6" stroke="#a8dcf4" stroke-width="4.5"/><text transform="translate(402.5 2806.38)" style="font-family:'Liberation Sans',Arial,sans-serif;font-size:52px" text-anchor="start" fill="#000" xml:space="preserve">C  2p</text><line x1="295.5" y1="2856.9" x2="391.9" y2="2856.9" stroke="#8b4a14" stroke-width="4.5"/><text transform="translate(402.5 2870.68)" style="font-family:'Liberation Sans',Arial,sans-serif;font-size:52px" text-anchor="start" fill="#000" xml:space="preserve">Fe 3d</text><line x1="295.5" y1="2921" x2="391.9" y2="2921" stroke="#1a1aff" stroke-width="4.5"/><text transform="translate(402.5 2934.78)" style="font-family:'Liberation Sans',Arial,sans-serif;font-size:52px" text-anchor="start" fill="#000" xml:space="preserve">Co3d</text><line x1="295.5" y1="2985" x2="391.9" y2="2985" stroke="#ff1aff" stroke-width="4.5"/><text transform="translate(402.5 2998.78)" style="font-family:'Liberation Sans',Arial,sans-serif;font-size:52px" text-anchor="start" fill="#000" xml:space="preserve">N  2p</text><line x1="295.5" y1="3049.3" x2="391.9" y2="3049.3" stroke="#969696" stroke-width="4.5"/><text transform="translate(402.5 3063.08)" style="font-family:'Liberation Sans',Arial,sans-serif;font-size:52px" text-anchor="start" fill="#000" xml:space="preserve">Total</text><text transform="translate(102 2399.2) scale(1.02 1)" style="font-family:'Liberation Serif','Times New Roman',serif;font-weight:bold;font-size:91px" text-anchor="start" fill="#000">(d)</text><clipPath id="clipe"><rect x="1484.8" y="2341" width="947.6" height="755.5"/></clipPath><g clip-path="url(#clipe)"><line x1="1484.8" y1="2704.3" x2="2432.4" y2="2704.3" stroke="#969696" stroke-width="3"/><path d="M1574.0 2704.3 C1575.8 2702.9 1581.6 2696.5 1584.5 2695.6 C1587.4 2694.7 1588.8 2703.4 1591.4 2699.1 C1594.0 2694.7 1597.5 2672.4 1600.1 2669.5 C1602.7 2666.6 1604.8 2676.7 1607.1 2681.7 C1609.4 2686.6 1611.7 2695.3 1614.1 2699.1 C1616.4 2702.9 1618.4 2706.0 1621.0 2704.3 C1623.6 2702.6 1627.1 2692.4 1629.7 2688.6 C1632.3 2684.9 1634.4 2681.1 1636.7 2681.7 C1639.0 2682.3 1641.6 2693.6 1643.6 2692.1 C1645.7 2690.7 1647.1 2674.7 1648.9 2673.0 C1650.6 2671.2 1652.4 2677.9 1654.1 2681.7 C1655.8 2685.4 1657.3 2696.2 1659.3 2695.6 C1661.3 2695.0 1664.3 2682.0 1666.3 2678.2 C1668.3 2674.4 1669.5 2673.0 1671.5 2673.0 C1673.5 2673.0 1676.1 2679.6 1678.5 2678.2 C1680.8 2676.7 1683.1 2670.1 1685.4 2664.3 C1687.8 2658.5 1690.4 2648.0 1692.4 2643.4 C1694.4 2638.7 1695.3 2638.7 1697.6 2636.4 C1699.9 2634.1 1704.0 2628.3 1706.3 2629.4 C1708.6 2630.6 1709.8 2637.6 1711.5 2643.4 C1713.3 2649.2 1715.0 2663.1 1716.8 2664.3 C1718.5 2665.4 1720.3 2648.6 1722.0 2650.3 C1723.7 2652.1 1725.2 2674.7 1727.2 2674.7 C1729.2 2674.7 1731.9 2659.6 1734.2 2650.3 C1736.5 2641.0 1738.8 2625.4 1741.1 2619.0 C1743.5 2612.6 1746.1 2609.7 1748.1 2612.0 C1750.1 2614.4 1751.6 2624.8 1753.3 2632.9 C1755.1 2641.0 1756.5 2656.7 1758.6 2660.8 C1760.6 2664.8 1762.9 2663.1 1765.5 2657.3 C1768.1 2651.5 1771.6 2634.1 1774.2 2626.0 C1776.8 2617.8 1778.9 2607.4 1781.2 2608.6 C1783.5 2609.7 1786.1 2619.0 1788.1 2632.9 C1790.2 2646.9 1791.3 2682.8 1793.4 2692.1 C1795.4 2701.4 1797.7 2692.1 1800.3 2688.6 C1802.9 2685.2 1806.1 2681.7 1809.0 2671.2 C1811.9 2660.8 1814.8 2642.8 1817.7 2626.0 C1820.6 2609.1 1824.1 2576.6 1826.4 2570.3 C1828.8 2563.9 1829.6 2579.5 1831.7 2587.7 C1833.7 2595.8 1836.6 2614.9 1838.6 2619.0 C1840.7 2623.1 1842.1 2614.9 1843.9 2612.0 C1845.6 2609.1 1847.0 2601.0 1849.1 2601.6 C1851.1 2602.2 1853.7 2609.7 1856.0 2615.5 C1858.4 2621.3 1860.7 2639.3 1863.0 2636.4 C1865.3 2633.5 1867.9 2599.8 1870.0 2598.1 C1872.0 2596.4 1873.5 2624.2 1875.2 2626.0 C1876.9 2627.7 1878.1 2617.3 1880.4 2608.6 C1882.7 2599.8 1886.8 2582.1 1889.1 2573.7 C1891.4 2565.3 1892.3 2553.4 1894.3 2558.1 C1896.4 2562.7 1899.3 2590.3 1901.3 2601.6 C1903.3 2612.9 1904.5 2635.0 1906.5 2626.0 C1908.6 2617.0 1911.2 2558.9 1913.5 2547.6 C1915.8 2536.3 1918.4 2556.0 1920.5 2558.1 C1922.5 2560.1 1923.7 2545.6 1925.7 2559.8 C1927.7 2574.0 1930.3 2634.1 1932.6 2643.4 C1935.0 2652.7 1937.3 2624.8 1939.6 2615.5 C1941.9 2606.2 1944.8 2592.3 1946.6 2587.7 C1948.3 2583.0 1948.3 2576.1 1950.0 2587.7 C1951.7 2599.3 1954.6 2652.1 1957.0 2657.3 C1959.3 2662.5 1961.6 2627.1 1963.9 2619.0 C1966.2 2610.9 1968.6 2609.1 1970.9 2608.6 C1973.2 2608.0 1975.5 2616.7 1977.9 2615.5 C1980.2 2614.4 1982.5 2612.0 1984.8 2601.6 C1987.1 2591.1 1989.5 2558.6 1991.8 2552.8 C1994.1 2547.0 1996.4 2556.3 1998.7 2566.8 C2001.1 2577.2 2003.7 2613.2 2005.7 2615.5 C2007.7 2617.8 2009.5 2595.8 2010.9 2580.7 C2012.4 2565.6 2013.0 2536.0 2014.4 2525.0 C2015.9 2514.0 2017.9 2515.4 2019.6 2514.5 C2021.4 2513.7 2023.1 2524.4 2024.9 2519.8 C2026.6 2515.1 2028.3 2506.7 2030.1 2486.7 C2031.8 2466.7 2034.0 2418.2 2035.3 2399.6 C2036.6 2381.1 2036.9 2375.3 2037.7 2375.3 C2038.6 2375.3 2039.5 2381.1 2040.5 2399.6 C2041.6 2418.2 2042.6 2457.7 2044.0 2486.7 C2045.5 2515.7 2047.8 2548.8 2049.2 2573.7 C2050.7 2598.7 2050.7 2625.4 2052.7 2636.4 C2054.7 2647.4 2059.1 2638.7 2061.4 2639.9 C2063.7 2641.0 2064.9 2647.4 2066.6 2643.4 C2068.4 2639.3 2070.1 2617.3 2071.9 2615.5 C2073.6 2613.8 2075.3 2636.4 2077.1 2632.9 C2078.8 2629.4 2080.6 2608.0 2082.3 2594.6 C2084.1 2581.3 2086.1 2559.2 2087.5 2552.8 C2089.0 2546.5 2089.6 2549.4 2091.0 2556.3 C2092.5 2563.3 2094.2 2579.0 2096.2 2594.6 C2098.3 2610.3 2100.9 2638.7 2103.2 2650.3 C2105.5 2661.9 2108.1 2661.4 2110.2 2664.3 C2112.2 2667.2 2113.6 2663.1 2115.4 2667.7 C2117.1 2672.4 2118.6 2687.5 2120.6 2692.1 C2122.6 2696.8 2124.7 2700.2 2127.6 2695.6 C2130.5 2691.0 2135.1 2665.4 2138.0 2664.3 C2140.9 2663.1 2141.5 2682.8 2145.0 2688.6 C2148.5 2694.4 2154.9 2711.3 2158.9 2699.1 C2163.0 2686.9 2166.5 2621.9 2169.4 2615.5 C2172.3 2609.1 2174.0 2648.0 2176.3 2660.8 C2178.6 2673.5 2181.0 2689.2 2183.3 2692.1 C2185.6 2695.0 2188.5 2684.0 2190.3 2678.2 C2192.0 2672.4 2192.0 2655.0 2193.7 2657.3 C2195.5 2659.6 2198.4 2686.9 2200.7 2692.1 C2203.0 2697.3 2204.5 2693.9 2207.7 2688.6 C2210.9 2683.4 2216.9 2660.2 2219.8 2660.8 C2222.7 2661.4 2221.9 2686.3 2225.1 2692.1 C2228.3 2697.9 2234.6 2700.2 2239.0 2695.6 C2243.3 2691.0 2248.3 2664.8 2251.2 2664.3 C2254.1 2663.7 2253.2 2686.3 2256.4 2692.1 C2259.6 2697.9 2267.1 2699.7 2270.3 2699.1 C2273.5 2698.5 2273.8 2688.3 2275.6 2688.6 C2277.3 2688.9 2277.6 2699.7 2280.8 2700.8 C2284.0 2702.0 2290.9 2699.4 2294.7 2695.6 C2298.5 2691.8 2301.1 2684.6 2303.4 2678.2 C2305.7 2671.8 2306.9 2661.4 2308.6 2657.3 C2310.4 2653.2 2312.4 2659.0 2313.9 2653.8 C2315.3 2648.6 2315.9 2640.5 2317.3 2626.0 C2318.8 2611.5 2320.8 2572.0 2322.6 2566.8 C2324.3 2561.5 2326.0 2585.9 2327.8 2594.6 C2329.5 2603.3 2331.3 2621.3 2333.0 2619.0 C2334.7 2616.7 2336.4 2600.1 2338.2 2580.7 C2340.1 2561.3 2342.4 2509.3 2344.2 2502.4 C2345.9 2495.4 2346.8 2523.5 2348.7 2538.9 C2350.6 2554.3 2353.6 2579.0 2355.6 2594.6 C2357.7 2610.3 2358.8 2632.3 2360.9 2632.9 C2362.9 2633.5 2365.8 2601.0 2367.8 2598.1 C2369.9 2595.2 2371.3 2610.3 2373.1 2615.5 C2374.8 2620.7 2376.5 2626.0 2378.3 2629.4 C2380.0 2632.9 2381.5 2628.3 2383.5 2636.4 C2385.5 2644.5 2387.8 2668.3 2390.5 2678.2 C2393.1 2688.1 2396.0 2691.2 2399.2 2695.6 C2402.4 2700.0 2407.9 2702.9 2409.6 2704.3" fill="none" stroke="#969696" stroke-width="2.2" stroke-linejoin="round"/><path d="M1574.0 2704.3 C1575.8 2705.5 1581.6 2710.7 1584.5 2711.3 C1587.4 2711.8 1588.8 2706.9 1591.4 2707.8 C1594.0 2708.7 1597.5 2716.2 1600.1 2716.5 C1602.7 2716.8 1604.8 2711.3 1607.1 2709.5 C1609.4 2707.8 1611.7 2706.9 1614.1 2706.0 C1616.4 2705.2 1618.4 2702.0 1621.0 2704.3 C1623.6 2706.6 1627.1 2716.2 1629.7 2720.0 C1632.3 2723.7 1634.4 2727.5 1636.7 2726.9 C1639.0 2726.4 1641.3 2717.1 1643.6 2716.5 C1646.0 2715.9 1647.1 2721.1 1650.6 2723.5 C1654.1 2725.8 1660.5 2726.4 1664.5 2730.4 C1668.6 2734.5 1671.5 2741.4 1675.0 2747.8 C1678.5 2754.2 1682.5 2766.4 1685.4 2768.7 C1688.3 2771.0 1690.4 2760.6 1692.4 2761.8 C1694.4 2762.9 1695.3 2774.5 1697.6 2775.7 C1699.9 2776.8 1703.7 2773.4 1706.3 2768.7 C1708.9 2764.1 1711.0 2751.9 1713.3 2747.8 C1715.6 2743.8 1717.9 2748.4 1720.3 2744.3 C1722.6 2740.3 1724.9 2725.2 1727.2 2723.5 C1729.5 2721.7 1731.3 2728.1 1734.2 2733.9 C1737.1 2739.7 1741.7 2750.1 1744.6 2758.3 C1747.5 2766.4 1749.3 2782.1 1751.6 2782.6 C1753.9 2783.2 1756.2 2767.6 1758.6 2761.8 C1760.9 2756.0 1762.6 2742.6 1765.5 2747.8 C1768.4 2753.1 1773.1 2789.6 1776.0 2793.1 C1778.9 2796.6 1780.6 2775.7 1782.9 2768.7 C1785.2 2761.8 1787.6 2756.0 1789.9 2751.3 C1792.2 2746.7 1794.5 2745.5 1796.9 2740.9 C1799.2 2736.2 1801.5 2722.3 1803.8 2723.5 C1806.1 2724.6 1808.5 2736.2 1810.8 2747.8 C1813.1 2759.4 1814.8 2776.8 1817.7 2793.1 C1820.6 2809.3 1825.3 2842.4 1828.2 2845.3 C1831.1 2848.2 1832.8 2820.4 1835.2 2810.5 C1837.5 2800.6 1839.8 2789.6 1842.1 2786.1 C1844.4 2782.6 1846.8 2791.4 1849.1 2789.6 C1851.4 2787.9 1853.7 2776.8 1856.0 2775.7 C1858.4 2774.5 1861.0 2785.0 1863.0 2782.6 C1865.0 2780.3 1865.9 2758.3 1868.2 2761.8 C1870.6 2765.2 1874.3 2799.5 1876.9 2803.5 C1879.5 2807.6 1881.3 2785.0 1883.9 2786.1 C1886.5 2787.3 1889.7 2804.1 1892.6 2810.5 C1895.5 2816.9 1898.7 2826.8 1901.3 2824.4 C1903.9 2822.1 1905.7 2793.1 1908.3 2796.6 C1910.9 2800.1 1914.1 2829.7 1917.0 2845.3 C1919.9 2861.0 1923.1 2891.7 1925.7 2890.6 C1928.3 2889.4 1930.3 2860.4 1932.6 2838.4 C1935.0 2816.3 1937.0 2762.9 1939.6 2758.3 C1942.2 2753.6 1946.6 2799.5 1948.3 2810.5 C1950.0 2821.5 1948.6 2836.0 1950.0 2824.4 C1951.4 2812.8 1954.6 2749.0 1957.0 2740.9 C1959.3 2732.7 1961.6 2765.2 1963.9 2775.7 C1966.2 2786.1 1968.6 2800.6 1970.9 2803.5 C1973.2 2806.4 1975.5 2794.8 1977.9 2793.1 C1980.2 2791.4 1982.8 2787.9 1984.8 2793.1 C1986.9 2798.3 1988.3 2814.0 1990.0 2824.4 C1991.8 2834.9 1993.2 2854.0 1995.3 2855.8 C1997.3 2857.5 2000.2 2847.1 2002.2 2834.9 C2004.3 2822.7 2005.7 2785.5 2007.5 2782.6 C2009.2 2779.7 2010.9 2801.8 2012.7 2817.5 C2014.4 2833.1 2016.2 2875.5 2017.9 2876.7 C2019.6 2877.8 2021.1 2845.9 2023.1 2824.4 C2025.2 2803.0 2027.5 2764.7 2030.1 2747.8 C2032.7 2731.0 2036.2 2730.4 2038.8 2723.5 C2041.4 2716.5 2043.4 2701.4 2045.8 2706.0 C2048.1 2710.7 2050.1 2744.3 2052.7 2751.3 C2055.3 2758.3 2059.1 2741.4 2061.4 2747.8 C2063.7 2754.2 2064.9 2779.2 2066.6 2789.6 C2068.4 2800.1 2069.8 2815.1 2071.9 2810.5 C2073.9 2805.9 2076.8 2772.2 2078.8 2761.8 C2080.9 2751.3 2082.3 2742.0 2084.1 2747.8 C2085.8 2753.6 2087.8 2783.8 2089.3 2796.6 C2090.7 2809.3 2091.3 2829.1 2092.8 2824.4 C2094.2 2819.8 2096.2 2779.7 2098.0 2768.7 C2099.7 2757.7 2101.5 2754.2 2103.2 2758.3 C2104.9 2762.3 2106.7 2769.9 2108.4 2793.1 C2110.2 2816.3 2112.2 2861.6 2113.6 2897.5 C2115.1 2933.5 2116.0 2981.1 2117.1 3009.0 C2118.3 3036.8 2119.5 3073.4 2120.6 3064.7 C2121.8 3056.0 2122.9 2993.3 2124.1 2956.7 C2125.3 2920.2 2126.4 2882.5 2127.6 2845.3 C2128.7 2808.2 2129.3 2754.8 2131.1 2733.9 C2132.8 2713.0 2135.7 2724.6 2138.0 2720.0 C2140.3 2715.3 2143.2 2697.9 2145.0 2706.0 C2146.7 2714.2 2147.3 2744.3 2148.5 2768.7 C2149.6 2793.1 2150.5 2835.5 2151.9 2852.3 C2153.4 2869.1 2155.4 2875.5 2157.2 2869.7 C2158.9 2863.9 2160.9 2823.8 2162.4 2817.5 C2163.8 2811.1 2164.4 2827.9 2165.9 2831.4 C2167.3 2834.9 2169.1 2843.0 2171.1 2838.4 C2173.1 2833.7 2175.5 2812.8 2178.1 2803.5 C2180.7 2794.3 2184.2 2791.9 2186.8 2782.6 C2189.4 2773.4 2191.4 2757.7 2193.7 2747.8 C2196.1 2738.0 2198.4 2723.5 2200.7 2723.5 C2203.0 2723.5 2205.3 2746.1 2207.7 2747.8 C2210.0 2749.6 2211.7 2740.3 2214.6 2733.9 C2217.5 2727.5 2221.0 2712.4 2225.1 2709.5 C2229.1 2706.6 2234.4 2710.1 2239.0 2716.5 C2243.6 2722.9 2249.4 2745.5 2252.9 2747.8 C2256.4 2750.1 2257.0 2735.6 2259.9 2730.4 C2262.8 2725.2 2267.4 2715.9 2270.3 2716.5 C2273.2 2717.1 2275.0 2733.9 2277.3 2733.9 C2279.6 2733.9 2281.4 2721.1 2284.3 2716.5 C2287.2 2711.8 2291.2 2700.8 2294.7 2706.0 C2298.2 2711.3 2301.7 2739.7 2305.2 2747.8 C2308.6 2756.0 2313.0 2746.7 2315.6 2754.8 C2318.2 2762.9 2318.8 2783.8 2320.8 2796.6 C2322.9 2809.3 2325.8 2831.4 2327.8 2831.4 C2329.8 2831.4 2331.3 2806.4 2333.0 2796.6 C2334.7 2786.7 2336.2 2763.5 2338.2 2772.2 C2340.3 2780.9 2342.9 2838.9 2345.2 2848.8 C2347.5 2858.7 2349.5 2839.5 2352.2 2831.4 C2354.8 2823.3 2358.3 2809.3 2360.9 2800.1 C2363.5 2790.8 2365.5 2775.1 2367.8 2775.7 C2370.1 2776.3 2372.5 2803.5 2374.8 2803.5 C2377.1 2803.5 2379.4 2781.5 2381.8 2775.7 C2384.1 2769.9 2386.4 2767.0 2388.7 2768.7 C2391.0 2770.5 2393.4 2790.8 2395.7 2786.1 C2398.0 2781.5 2400.3 2753.1 2402.6 2740.9 C2405.0 2728.7 2407.3 2719.1 2409.6 2713.0 C2411.9 2706.9 2415.4 2705.8 2416.6 2704.3" fill="none" stroke="#969696" stroke-width="2.2" stroke-linejoin="round"/><path d="M1577.5 2704.3 C1601.9 2703.4 1693.6 2700.0 1723.7 2699.1 C1753.9 2698.2 1741.1 2700.2 1758.6 2699.1 C1776.0 2697.9 1813.7 2695.0 1828.2 2692.1 C1842.7 2689.2 1839.8 2683.4 1845.6 2681.7 C1851.4 2679.9 1854.3 2682.3 1863.0 2681.7 C1871.7 2681.1 1886.2 2677.6 1897.8 2678.2 C1909.4 2678.8 1924.0 2684.6 1932.6 2685.2 C1941.3 2685.7 1944.2 2681.1 1950.0 2681.7 C1955.8 2682.3 1961.6 2688.6 1967.4 2688.6 C1973.2 2688.6 1979.0 2682.3 1984.8 2681.7 C1990.6 2681.1 1993.5 2685.2 2002.2 2685.2 C2010.9 2685.2 2028.3 2678.5 2037.0 2681.7 C2045.8 2684.9 2005.7 2700.5 2054.5 2704.3 C2103.2 2708.1 2280.2 2706.9 2329.5 2704.3 C2378.9 2701.7 2344.0 2694.4 2350.4 2688.6 C2356.8 2682.8 2361.4 2669.5 2367.8 2669.5 C2374.2 2669.5 2380.6 2682.8 2388.7 2688.6 C2396.8 2694.4 2411.9 2701.7 2416.6 2704.3" fill="none" stroke="#a8dcf4" stroke-width="2.3" stroke-linejoin="round"/><path d="M1577.5 2704.3 C1601.9 2705.2 1693.6 2708.7 1723.7 2709.5 C1753.9 2710.4 1741.1 2708.4 1758.6 2709.5 C1776.0 2710.7 1813.7 2713.6 1828.2 2716.5 C1842.7 2719.4 1839.8 2725.2 1845.6 2726.9 C1851.4 2728.7 1854.3 2726.9 1863.0 2726.9 C1871.7 2726.9 1886.2 2726.4 1897.8 2726.9 C1909.4 2727.5 1924.0 2729.8 1932.6 2730.4 C1941.3 2731.0 1944.2 2731.6 1950.0 2730.4 C1955.8 2729.3 1961.6 2724.0 1967.4 2723.5 C1973.2 2722.9 1979.0 2726.9 1984.8 2726.9 C1990.6 2726.9 1994.7 2723.5 2002.2 2723.5 C2009.8 2723.5 2021.4 2730.1 2030.1 2726.9 C2038.8 2723.7 2004.5 2708.1 2054.5 2704.3 C2104.4 2700.5 2280.2 2702.3 2329.5 2704.3 C2378.9 2706.3 2343.5 2710.4 2350.4 2716.5 C2357.4 2722.6 2364.9 2740.3 2371.3 2740.9 C2377.7 2741.4 2381.2 2726.1 2388.7 2720.0 C2396.3 2713.9 2411.9 2706.9 2416.6 2704.3" fill="none" stroke="#a8dcf4" stroke-width="2.3" stroke-linejoin="round"/><path d="M1577.5 2704.3 C1596.1 2704.0 1664.5 2703.1 1688.9 2702.6 C1713.3 2702.0 1712.1 2700.9 1723.7 2700.8 C1735.3 2700.7 1746.9 2701.5 1758.6 2701.9 C1770.2 2702.3 1781.8 2703.7 1793.4 2703.3 C1805.0 2702.8 1819.5 2705.0 1828.2 2699.1 C1836.9 2693.2 1841.0 2671.2 1845.6 2667.7 C1850.2 2664.3 1853.1 2675.3 1856.0 2678.2 C1858.9 2681.1 1858.9 2682.8 1863.0 2685.2 C1867.1 2687.5 1874.6 2690.7 1880.4 2692.1 C1886.2 2693.6 1892.0 2693.3 1897.8 2693.9 C1903.6 2694.4 1909.4 2694.4 1915.2 2695.6 C1921.0 2696.8 1926.9 2699.7 1932.6 2700.8 C1938.4 2702.0 1932.6 2702.6 1950.0 2702.6 C1967.4 2702.6 2019.6 2700.8 2037.0 2700.8 C2054.5 2700.8 2049.8 2704.6 2054.5 2702.6 C2059.1 2700.5 2062.0 2692.1 2064.9 2688.6 C2067.8 2685.2 2069.5 2685.2 2071.9 2681.7 C2074.2 2678.2 2076.8 2675.3 2078.8 2667.7 C2080.9 2660.2 2082.3 2644.5 2084.1 2636.4 C2085.8 2628.3 2087.2 2620.7 2089.3 2619.0 C2091.3 2617.3 2093.9 2618.4 2096.2 2626.0 C2098.6 2633.5 2100.9 2653.2 2103.2 2664.3 C2105.5 2675.3 2107.8 2685.4 2110.2 2692.1 C2112.5 2698.8 2109.0 2702.3 2117.1 2704.3 C2125.3 2706.3 2149.6 2706.3 2158.9 2704.3 C2168.2 2702.3 2169.4 2693.0 2172.8 2692.1 C2176.3 2691.2 2171.7 2697.0 2179.8 2699.1 C2187.9 2701.1 2196.6 2703.4 2221.6 2704.3 C2246.5 2705.2 2310.4 2706.9 2329.5 2704.3 C2348.7 2701.7 2333.9 2697.6 2336.5 2688.6 C2339.1 2679.6 2342.3 2652.7 2345.2 2650.3 C2348.1 2648.0 2350.1 2668.3 2353.9 2674.7 C2357.7 2681.1 2362.0 2685.2 2367.8 2688.6 C2373.6 2692.1 2382.9 2693.0 2388.7 2695.6 C2394.5 2698.2 2400.3 2702.9 2402.6 2704.3" fill="none" stroke="#8b4a14" stroke-width="2.3" stroke-linejoin="round"/><path d="M1577.5 2704.3 C1601.9 2704.9 1693.6 2707.3 1723.7 2707.8 C1753.9 2708.2 1741.1 2706.8 1758.6 2707.1 C1776.0 2707.4 1813.7 2704.5 1828.2 2709.5 C1842.7 2714.6 1841.0 2735.6 1845.6 2737.4 C1850.2 2739.1 1853.1 2724.0 1856.0 2720.0 C1858.9 2715.9 1856.0 2714.2 1863.0 2713.0 C1870.0 2711.8 1889.1 2713.3 1897.8 2713.0 C1906.5 2712.7 1909.4 2712.1 1915.2 2711.3 C1921.0 2710.4 1926.9 2708.4 1932.6 2707.8 C1938.4 2707.2 1932.6 2707.8 1950.0 2707.8 C1967.4 2707.8 2019.6 2707.5 2037.0 2707.8 C2054.5 2708.1 2049.8 2705.8 2054.5 2709.5 C2059.1 2713.3 2062.0 2728.7 2064.9 2730.4 C2067.8 2732.2 2068.7 2715.3 2071.9 2720.0 C2075.1 2724.6 2080.6 2754.8 2084.1 2758.3 C2087.5 2761.8 2089.6 2738.0 2092.8 2740.9 C2095.9 2743.8 2100.3 2778.0 2103.2 2775.7 C2106.1 2773.4 2107.8 2737.4 2110.2 2726.9 C2112.5 2716.5 2114.8 2716.5 2117.1 2713.0 C2119.5 2709.5 2116.0 2706.6 2124.1 2706.0 C2132.2 2705.5 2154.3 2708.9 2165.9 2709.5 C2177.5 2710.1 2184.4 2710.4 2193.7 2709.5 C2203.0 2708.7 2199.0 2705.2 2221.6 2704.3 C2244.2 2703.4 2309.8 2701.1 2329.5 2704.3 C2349.3 2707.5 2336.5 2713.9 2340.0 2723.5 C2343.5 2733.0 2346.9 2760.6 2350.4 2761.8 C2353.9 2762.9 2356.8 2736.2 2360.9 2730.4 C2364.9 2724.6 2370.1 2729.8 2374.8 2726.9 C2379.4 2724.0 2384.1 2716.8 2388.7 2713.0 C2393.4 2709.2 2400.3 2705.8 2402.6 2704.3" fill="none" stroke="#8b4a14" stroke-width="2.3" stroke-linejoin="round"/><path d="M1577.5 2704.3 C1616.4 2704.1 1752.7 2703.5 1810.8 2703.3 C1868.8 2703.0 1902.5 2702.5 1925.7 2702.6 C1948.9 2702.6 1928.5 2703.5 1950.0 2703.6 C1971.5 2703.7 2002.2 2703.1 2054.5 2703.3 C2106.7 2703.4 2226.8 2705.1 2263.4 2704.3 C2299.9 2703.5 2270.9 2698.4 2273.8 2698.4 C2276.7 2698.4 2278.2 2704.3 2280.8 2704.3 C2283.4 2704.3 2286.6 2698.4 2289.5 2698.4 C2292.4 2698.4 2274.4 2703.3 2298.2 2704.3 C2322.0 2705.3 2409.9 2704.3 2432.2 2704.3" fill="none" stroke="#22e022" stroke-width="2.3" stroke-linejoin="round"/><path d="M1577.5 2704.3 C1616.4 2704.5 1752.7 2705.1 1810.8 2705.3 C1868.8 2705.6 1902.5 2706.1 1925.7 2706.0 C1948.9 2706.0 1928.5 2705.1 1950.0 2705.0 C1971.5 2704.9 2002.2 2705.5 2054.5 2705.3 C2106.7 2705.2 2226.8 2703.5 2263.4 2704.3 C2299.9 2705.1 2270.9 2710.2 2273.8 2710.2 C2276.7 2710.2 2278.2 2704.3 2280.8 2704.3 C2283.4 2704.3 2286.6 2710.2 2289.5 2710.2 C2292.4 2710.2 2274.4 2705.3 2298.2 2704.3 C2322.0 2703.3 2409.9 2704.3 2432.2 2704.3" fill="none" stroke="#22e022" stroke-width="2.3" stroke-linejoin="round"/><path d="M1577.5 2704.3 C1599.0 2704.0 1681.9 2705.8 1706.3 2702.6 C1730.7 2699.4 1718.5 2686.9 1723.7 2685.2 C1729.0 2683.4 1731.9 2689.2 1737.7 2692.1 C1743.5 2695.0 1752.2 2700.5 1758.6 2702.6 C1764.9 2704.6 1764.4 2704.3 1776.0 2704.3 C1787.6 2704.3 1817.2 2704.6 1828.2 2702.6 C1839.2 2700.5 1837.5 2693.3 1842.1 2692.1 C1846.8 2691.0 1849.7 2694.7 1856.0 2695.6 C1862.4 2696.5 1870.6 2696.5 1880.4 2697.3 C1890.3 2698.2 1906.5 2700.5 1915.2 2700.8 C1923.9 2701.1 1926.9 2698.5 1932.6 2699.1 C1938.4 2699.7 1945.9 2704.3 1950.0 2704.3 C1954.1 2704.3 1954.6 2700.5 1957.0 2699.1 C1959.3 2697.6 1961.0 2699.1 1963.9 2695.6 C1966.8 2692.1 1971.5 2683.4 1974.4 2678.2 C1977.3 2673.0 1979.0 2664.3 1981.3 2664.3 C1983.7 2664.3 1985.4 2676.4 1988.3 2678.2 C1991.2 2679.9 1996.1 2680.5 1998.7 2674.7 C2001.4 2668.9 2002.2 2660.2 2004.0 2643.4 C2005.7 2626.5 2007.7 2585.9 2009.2 2573.7 C2010.6 2561.5 2011.5 2569.1 2012.7 2570.3 C2013.8 2571.4 2015.0 2583.6 2016.2 2580.7 C2017.3 2577.8 2018.2 2562.7 2019.6 2552.8 C2021.1 2543.0 2023.4 2522.7 2024.9 2521.5 C2026.3 2520.3 2027.2 2533.7 2028.3 2545.9 C2029.5 2558.1 2030.7 2583.0 2031.8 2594.6 C2033.0 2606.2 2033.9 2614.9 2035.3 2615.5 C2036.8 2616.1 2039.1 2598.1 2040.5 2598.1 C2042.0 2598.1 2042.6 2602.7 2044.0 2615.5 C2045.5 2628.3 2047.5 2660.2 2049.2 2674.7 C2051.0 2689.2 2048.9 2698.5 2054.5 2702.6 C2060.0 2706.6 2075.3 2701.4 2082.3 2699.1 C2089.3 2696.8 2092.8 2691.0 2096.2 2688.6 C2099.7 2686.3 2100.3 2683.4 2103.2 2685.2 C2106.1 2686.9 2111.3 2695.9 2113.6 2699.1 C2116.0 2702.3 2109.6 2703.4 2117.1 2704.3 C2124.7 2705.2 2149.6 2705.2 2158.9 2704.3 C2168.2 2703.4 2168.2 2703.4 2172.8 2699.1 C2177.5 2694.7 2183.3 2682.8 2186.8 2678.2 C2190.3 2673.5 2191.4 2674.7 2193.7 2671.2 C2196.1 2667.7 2198.4 2656.7 2200.7 2657.3 C2203.0 2657.9 2205.3 2670.6 2207.7 2674.7 C2210.0 2678.8 2212.6 2678.8 2214.6 2681.7 C2216.7 2684.6 2218.1 2689.2 2219.8 2692.1 C2221.6 2695.0 2222.5 2697.3 2225.1 2699.1 C2227.7 2700.8 2232.0 2703.7 2235.5 2702.6 C2239.0 2701.4 2243.1 2691.8 2246.0 2692.1 C2248.9 2692.4 2238.4 2702.3 2252.9 2704.3 C2267.4 2706.3 2313.9 2704.9 2333.0 2704.3 C2352.2 2703.7 2356.2 2700.8 2367.8 2700.8 C2379.4 2700.8 2396.8 2703.7 2402.6 2704.3" fill="none" stroke="#1a1aff" stroke-width="2.3" stroke-linejoin="round"/><path d="M1577.5 2704.3 C1599.0 2704.6 1681.9 2704.0 1706.3 2706.0 C1730.7 2708.1 1718.5 2715.3 1723.7 2716.5 C1729.0 2717.7 1731.9 2714.7 1737.7 2713.0 C1743.5 2711.3 1743.5 2707.2 1758.6 2706.0 C1773.6 2704.9 1814.3 2704.9 1828.2 2706.0 C1842.1 2707.2 1837.5 2712.4 1842.1 2713.0 C1846.8 2713.6 1849.7 2709.8 1856.0 2709.5 C1862.4 2709.2 1870.6 2711.3 1880.4 2711.3 C1890.3 2711.3 1903.6 2709.8 1915.2 2709.5 C1926.8 2709.2 1941.3 2708.9 1950.0 2709.5 C1958.7 2710.1 1961.6 2713.0 1967.4 2713.0 C1973.2 2713.0 1979.0 2709.5 1984.8 2709.5 C1990.6 2709.5 1997.6 2711.8 2002.2 2713.0 C2006.9 2714.2 2009.8 2714.7 2012.7 2716.5 C2015.6 2718.2 2016.7 2717.1 2019.6 2723.5 C2022.5 2729.8 2026.6 2754.2 2030.1 2754.8 C2033.6 2755.4 2037.0 2733.9 2040.5 2726.9 C2044.0 2720.0 2048.1 2714.2 2051.0 2713.0 C2053.9 2711.8 2055.6 2715.3 2057.9 2720.0 C2060.3 2724.6 2062.0 2738.0 2064.9 2740.9 C2067.8 2743.8 2072.2 2737.4 2075.3 2737.4 C2078.5 2737.4 2081.2 2742.6 2084.1 2740.9 C2087.0 2739.1 2089.9 2726.9 2092.8 2726.9 C2095.7 2726.9 2098.9 2722.9 2101.5 2740.9 C2104.1 2758.9 2106.4 2810.5 2108.4 2834.9 C2110.5 2859.2 2112.3 2873.8 2113.6 2887.1 C2115.0 2900.5 2115.3 2920.8 2116.4 2915.0 C2117.6 2909.2 2119.3 2877.2 2120.6 2852.3 C2121.9 2827.3 2122.6 2785.0 2124.1 2765.2 C2125.5 2745.5 2127.0 2744.1 2129.3 2733.9 C2131.6 2723.7 2135.4 2707.8 2138.0 2704.3 C2140.6 2700.8 2142.7 2702.9 2145.0 2713.0 C2147.3 2723.2 2150.2 2749.0 2151.9 2765.2 C2153.7 2781.5 2154.3 2807.6 2155.4 2810.5 C2156.6 2813.4 2157.5 2797.2 2158.9 2782.6 C2160.4 2768.1 2161.8 2734.5 2164.1 2723.5 C2166.5 2712.4 2169.1 2715.9 2172.8 2716.5 C2176.6 2717.1 2182.1 2723.5 2186.8 2726.9 C2191.4 2730.4 2197.2 2736.2 2200.7 2737.4 C2204.2 2738.5 2205.3 2738.0 2207.7 2733.9 C2210.0 2729.8 2211.1 2716.5 2214.6 2713.0 C2218.1 2709.5 2224.5 2711.8 2228.6 2713.0 C2232.6 2714.2 2235.8 2717.1 2239.0 2720.0 C2242.2 2722.9 2245.4 2731.0 2247.7 2730.4 C2250.0 2729.8 2250.3 2720.8 2252.9 2716.5 C2255.5 2712.1 2250.0 2706.3 2263.4 2704.3 C2276.7 2702.3 2315.6 2703.4 2333.0 2704.3 C2350.4 2705.2 2356.2 2709.5 2367.8 2709.5 C2379.4 2709.5 2396.8 2705.2 2402.6 2704.3" fill="none" stroke="#1a1aff" stroke-width="2.3" stroke-linejoin="round"/><path d="M1577.5 2704.3 C1578.7 2703.4 1581.0 2699.4 1584.5 2699.1 C1587.9 2698.8 1593.7 2702.9 1598.4 2702.6 C1603.0 2702.3 1608.8 2697.3 1612.3 2697.3 C1615.8 2697.3 1616.4 2701.4 1619.3 2702.6 C1622.2 2703.7 1625.1 2704.9 1629.7 2704.3 C1634.4 2703.7 1640.7 2699.1 1647.1 2699.1 C1653.5 2699.1 1661.1 2704.3 1668.0 2704.3 C1675.0 2704.3 1683.1 2699.4 1688.9 2699.1 C1694.7 2698.8 1698.2 2703.7 1702.8 2702.6 C1707.5 2701.4 1712.7 2696.2 1716.8 2692.1 C1720.8 2688.1 1723.7 2679.4 1727.2 2678.2 C1730.7 2677.0 1733.6 2685.7 1737.7 2685.2 C1741.7 2684.6 1748.1 2674.7 1751.6 2674.7 C1755.1 2674.7 1755.6 2681.1 1758.6 2685.2 C1761.5 2689.2 1765.5 2697.9 1769.0 2699.1 C1772.5 2700.2 1775.4 2692.1 1779.4 2692.1 C1783.5 2692.1 1788.1 2697.9 1793.4 2699.1 C1798.6 2700.2 1805.0 2700.8 1810.8 2699.1 C1816.6 2697.3 1822.4 2693.9 1828.2 2688.6 C1834.0 2683.4 1839.8 2669.5 1845.6 2667.7 C1851.4 2666.0 1857.2 2676.4 1863.0 2678.2 C1868.8 2679.9 1874.6 2679.4 1880.4 2678.2 C1886.2 2677.0 1894.3 2673.8 1897.8 2671.2 C1901.3 2668.6 1898.4 2660.8 1901.3 2662.5 C1904.2 2664.3 1910.0 2678.5 1915.2 2681.7 C1920.5 2684.9 1926.9 2684.6 1932.6 2681.7 C1938.4 2678.8 1945.4 2665.4 1950.0 2664.3 C1954.6 2663.1 1956.4 2675.9 1960.4 2674.7 C1964.5 2673.5 1970.3 2656.7 1974.4 2657.3 C1978.4 2657.9 1980.8 2675.6 1984.8 2678.2 C1988.9 2680.8 1994.1 2671.8 1998.7 2673.0 C2003.4 2674.1 2007.5 2682.0 2012.7 2685.2 C2017.9 2688.3 2025.4 2691.8 2030.1 2692.1 C2034.7 2692.4 2036.5 2685.2 2040.5 2686.9 C2044.6 2688.6 2049.2 2701.1 2054.5 2702.6 C2059.7 2704.0 2066.1 2699.1 2071.9 2695.6 C2077.7 2692.1 2084.1 2682.8 2089.3 2681.7 C2094.5 2680.5 2098.6 2684.9 2103.2 2688.6 C2107.8 2692.4 2107.8 2701.7 2117.1 2704.3 C2126.4 2706.9 2146.1 2705.8 2158.9 2704.3 C2171.7 2702.9 2185.6 2697.0 2193.7 2695.6 C2201.9 2694.1 2201.9 2694.1 2207.7 2695.6 C2213.5 2697.0 2208.2 2702.9 2228.6 2704.3 C2248.9 2705.8 2309.2 2706.3 2329.5 2704.3 C2349.8 2702.3 2344.0 2697.0 2350.4 2692.1 C2356.8 2687.2 2362.0 2675.3 2367.8 2674.7 C2373.6 2674.1 2379.4 2684.6 2385.2 2688.6 C2391.0 2692.7 2397.4 2696.5 2402.6 2699.1 C2407.9 2701.7 2414.3 2703.4 2416.6 2704.3" fill="none" stroke="#ff1aff" stroke-width="2.3" stroke-linejoin="round"/><path d="M1577.5 2704.3 C1583.3 2705.8 1603.6 2712.7 1612.3 2713.0 C1621.0 2713.3 1623.9 2706.6 1629.7 2706.0 C1635.5 2705.5 1640.7 2709.8 1647.1 2709.5 C1653.5 2709.2 1661.1 2703.7 1668.0 2704.3 C1675.0 2704.9 1683.1 2712.1 1688.9 2713.0 C1694.7 2713.9 1698.2 2708.9 1702.8 2709.5 C1707.5 2710.1 1712.1 2714.2 1716.8 2716.5 C1721.4 2718.8 1726.1 2722.3 1730.7 2723.5 C1735.3 2724.6 1740.0 2722.3 1744.6 2723.5 C1749.3 2724.6 1754.5 2732.2 1758.6 2730.4 C1762.6 2728.7 1765.5 2716.5 1769.0 2713.0 C1772.5 2709.5 1775.4 2710.1 1779.4 2709.5 C1783.5 2708.9 1785.2 2708.9 1793.4 2709.5 C1801.5 2710.1 1819.5 2708.4 1828.2 2713.0 C1836.9 2717.7 1839.8 2735.6 1845.6 2737.4 C1851.4 2739.1 1857.2 2724.6 1863.0 2723.5 C1868.8 2722.3 1873.5 2727.5 1880.4 2730.4 C1887.4 2733.3 1898.4 2740.9 1904.8 2740.9 C1911.2 2740.9 1914.1 2731.6 1918.7 2730.4 C1923.4 2729.3 1927.4 2730.4 1932.6 2733.9 C1937.9 2737.4 1945.4 2750.7 1950.0 2751.3 C1954.6 2751.9 1956.4 2736.8 1960.4 2737.4 C1964.5 2738.0 1970.3 2756.0 1974.4 2754.8 C1978.4 2753.6 1980.8 2732.7 1984.8 2730.4 C1988.9 2728.1 1994.1 2743.2 1998.7 2740.9 C2003.4 2738.5 2007.5 2721.1 2012.7 2716.5 C2017.9 2711.8 2025.4 2712.4 2030.1 2713.0 C2034.7 2713.6 2036.5 2721.1 2040.5 2720.0 C2044.6 2718.8 2049.2 2707.2 2054.5 2706.0 C2059.7 2704.9 2066.1 2710.1 2071.9 2713.0 C2077.7 2715.9 2084.1 2722.9 2089.3 2723.5 C2094.5 2724.0 2098.6 2719.7 2103.2 2716.5 C2107.8 2713.3 2107.8 2706.3 2117.1 2704.3 C2126.4 2702.3 2146.1 2703.4 2158.9 2704.3 C2171.7 2705.2 2185.6 2708.1 2193.7 2709.5 C2201.9 2711.0 2201.9 2713.9 2207.7 2713.0 C2213.5 2712.1 2208.2 2705.8 2228.6 2704.3 C2248.9 2702.9 2309.2 2701.7 2329.5 2704.3 C2349.8 2706.9 2343.5 2715.0 2350.4 2720.0 C2357.4 2724.9 2364.9 2733.9 2371.3 2733.9 C2377.7 2733.9 2383.5 2723.5 2388.7 2720.0 C2393.9 2716.5 2398.0 2715.6 2402.6 2713.0 C2407.3 2710.4 2414.3 2705.8 2416.6 2704.3" fill="none" stroke="#ff1aff" stroke-width="2.3" stroke-linejoin="round"/><line x1="1484.8" y1="2704.3" x2="2432.4" y2="2704.3" stroke="#ff1aff" stroke-width="3"/><line x1="2116.2" y1="2341" x2="2116.2" y2="3096.5" stroke="#ff9a3a" stroke-width="2.5" stroke-dasharray="6 4"/></g><rect x="1484.8" y="2341" width="947.6" height="755.5" fill="none" stroke="#000" stroke-width="5.5"/><line x1="1485" y1="3096.5" x2="1485" y2="3112.7" stroke="#000" stroke-width="5"/><text transform="translate(1485 3171.5) scale(0.92 1)" style="font-family:'Liberation Sans',Arial,sans-serif;font-size:65px" text-anchor="middle" fill="#000">−12</text><line x1="1537.6" y1="3096.5" x2="1537.6" y2="3105.7" stroke="#000" stroke-width="5"/><line x1="1590.2" y1="3096.5" x2="1590.2" y2="3112.7" stroke="#000" stroke-width="5"/><text transform="translate(1590.2 3171.5) scale(0.92 1)" style="font-family:'Liberation Sans',Arial,sans-serif;font-size:65px" text-anchor="middle" fill="#000">−10</text><line x1="1642.8" y1="3096.5" x2="1642.8" y2="3105.7" stroke="#000" stroke-width="5"/><line x1="1695.4" y1="3096.5" x2="1695.4" y2="3112.7" stroke="#000" stroke-width="5"/><text transform="translate(1695.4 3171.5) scale(0.92 1)" style="font-family:'Liberation Sans',Arial,sans-serif;font-size:65px" text-anchor="middle" fill="#000">−8</text><line x1="1748" y1="3096.5" x2="1748" y2="3105.7" stroke="#000" stroke-width="5"/><line x1="1800.6" y1="3096.5" x2="1800.6" y2="3112.7" stroke="#000" stroke-width="5"/><text transform="translate(1800.6 3171.5) scale(0.92 1)" style="font-family:'Liberation Sans',Arial,sans-serif;font-size:65px" text-anchor="middle" fill="#000">−6</text><line x1="1853.2" y1="3096.5" x2="1853.2" y2="3105.7" stroke="#000" stroke-width="5"/><line x1="1905.8" y1="3096.5" x2="1905.8" y2="3112.7" stroke="#000" stroke-width="5"/><text transform="translate(1905.8 3171.5) scale(0.92 1)" style="font-family:'Liberation Sans',Arial,sans-serif;font-size:65px" text-anchor="middle" fill="#000">−4</text><line x1="1958.4" y1="3096.5" x2="1958.4" y2="3105.7" stroke="#000" stroke-width="5"/><line x1="2011" y1="3096.5" x2="2011" y2="3112.7" stroke="#000" stroke-width="5"/><text transform="translate(2011 3171.5) scale(0.92 1)" style="font-family:'Liberation Sans',Arial,sans-serif;font-size:65px" text-anchor="middle" fill="#000">−2</text><line x1="2063.6" y1="3096.5" x2="2063.6" y2="3105.7" stroke="#000" stroke-width="5"/><line x1="2116.2" y1="3096.5" x2="2116.2" y2="3112.7" stroke="#000" stroke-width="5"/><text transform="translate(2116.2 3171.5) scale(0.92 1)" style="font-family:'Liberation Sans',Arial,sans-serif;font-size:65px" text-anchor="middle" fill="#000">0</text><line x1="2168.8" y1="3096.5" x2="2168.8" y2="3105.7" stroke="#000" stroke-width="5"/><line x1="2221.4" y1="3096.5" x2="2221.4" y2="3112.7" stroke="#000" stroke-width="5"/><text transform="translate(2221.4 3171.5) scale(0.92 1)" style="font-family:'Liberation Sans',Arial,sans-serif;font-size:65px" text-anchor="middle" fill="#000">2</text><line x1="2274" y1="3096.5" x2="2274" y2="3105.7" stroke="#000" stroke-width="5"/><line x1="2326.6" y1="3096.5" x2="2326.6" y2="3112.7" stroke="#000" stroke-width="5"/><text transform="translate(2326.6 3171.5) scale(0.92 1)" style="font-family:'Liberation Sans',Arial,sans-serif;font-size:65px" text-anchor="middle" fill="#000">4</text><line x1="2379.2" y1="3096.5" x2="2379.2" y2="3105.7" stroke="#000" stroke-width="5"/><line x1="2431.8" y1="3096.5" x2="2431.8" y2="3112.7" stroke="#000" stroke-width="5"/><text transform="translate(2431.8 3171.5) scale(0.92 1)" style="font-family:'Liberation Sans',Arial,sans-serif;font-size:65px" text-anchor="middle" fill="#000">6</text><text transform="translate(1775.5 3263.7)" style="font-family:'Liberation Sans',Arial,sans-serif;font-size:73.6px" text-anchor="start" fill="#000">Energy (eV)</text><text transform="translate(1440 2839.8) rotate(-90)" style="font-family:'Liberation Sans',Arial,sans-serif;font-size:71px" text-anchor="start" fill="#000">DOS (eV)</text><text transform="translate(1511.4 2404.5) scale(0.93 1)" style="font-family:'Liberation Sans',Arial,sans-serif;font-size:57.5px" text-anchor="start" fill="#000"><tspan>Al-Co</tspan><tspan dy="12.94" style="font-size:40.25px">2</tspan><tspan dy="-12.94">Fe(CN)</tspan><tspan dy="12.94" style="font-size:40.25px">6</tspan></text><line x1="1489.7" y1="2743.6" x2="1582.4" y2="2743.6" stroke="#a8dcf4" stroke-width="4.5"/><text transform="translate(1591.5 2756.85) scale(1.04 1)" style="font-family:'Liberation Sans',Arial,sans-serif;font-size:50px" text-anchor="start" fill="#000" xml:space="preserve">C 2p</text><line x1="1489.7" y1="2807" x2="1582.4" y2="2807" stroke="#8b4a14" stroke-width="4.5"/><text transform="translate(1591.5 2820.25) scale(1.04 1)" style="font-family:'Liberation Sans',Arial,sans-serif;font-size:50px" text-anchor="start" fill="#000" xml:space="preserve">Fe 3d</text><line x1="1489.7" y1="2871.4" x2="1582.4" y2="2871.4" stroke="#22e022" stroke-width="4.5"/><text transform="translate(1591.5 2884.65) scale(1.04 1)" style="font-family:'Liberation Sans',Arial,sans-serif;font-size:50px" text-anchor="start" fill="#000" xml:space="preserve">Al 3p</text><line x1="1489.7" y1="2936.9" x2="1582.4" y2="2936.9" stroke="#ff1aff" stroke-width="4.5"/><text transform="translate(1591.5 2950.15) scale(1.04 1)" style="font-family:'Liberation Sans',Arial,sans-serif;font-size:50px" text-anchor="start" fill="#000" xml:space="preserve">N 2p</text><line x1="1489.7" y1="3000.3" x2="1582.4" y2="3000.3" stroke="#1a1aff" stroke-width="4.5"/><text transform="translate(1591.5 3013.55) scale(1.04 1)" style="font-family:'Liberation Sans',Arial,sans-serif;font-size:50px" text-anchor="start" fill="#000" xml:space="preserve">Co 3d</text><line x1="1489.7" y1="3064.7" x2="1582.4" y2="3064.7" stroke="#969696" stroke-width="4.5"/><text transform="translate(1591.5 3077.95) scale(1.04 1)" style="font-family:'Liberation Sans',Arial,sans-serif;font-size:50px" text-anchor="start" fill="#000" xml:space="preserve">Total</text><text transform="translate(1331.1 2379.3) scale(1.05 1)" style="font-family:'Liberation Serif','Times New Roman',serif;font-weight:bold;font-size:99px" text-anchor="start" fill="#000">(e)</text></svg></body></html>
